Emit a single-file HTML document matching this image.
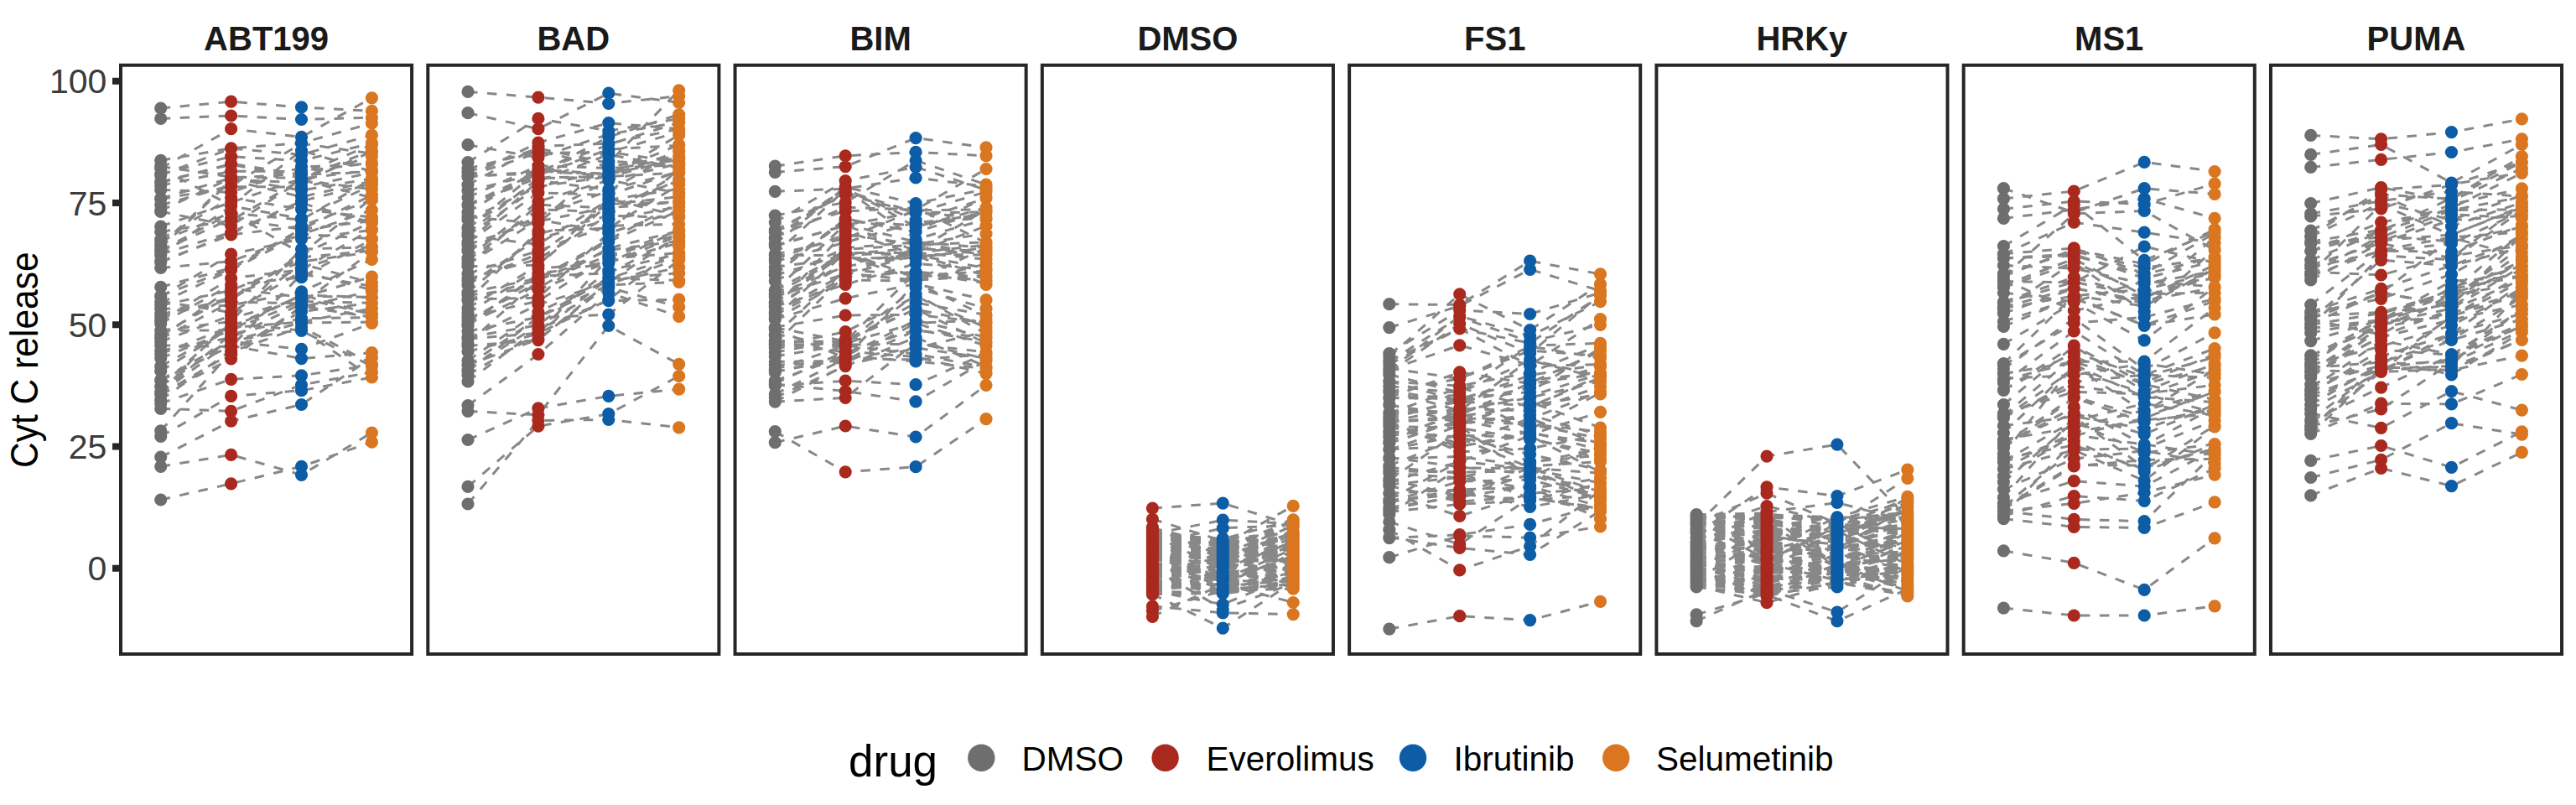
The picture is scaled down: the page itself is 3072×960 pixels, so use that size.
<!DOCTYPE html><html><head><meta charset="utf-8"><style>html,body{margin:0;padding:0;background:#fff;}svg{display:block;}text{font-family:"Liberation Sans",sans-serif;}</style></head><body>
<svg width="3072" height="960" viewBox="0 0 3072 960">
<rect width="3072" height="960" fill="#fff"/>
<g fill="none" stroke="#888888" stroke-width="3" stroke-dasharray="11.5 11.5">
<polyline points="191.7,442.6 275.6,390.7 359.5,383.9 443.4,367.8"/>
<polyline points="191.7,394.1 275.6,383.4 359.5,297.0 443.4,294.9"/>
<polyline points="191.7,129.1 275.6,121.2 359.5,127.9 443.4,132.4"/>
<polyline points="191.7,407.4 275.6,376.3 359.5,314.7 443.4,337.2"/>
<polyline points="191.7,226.3 275.6,229.4 359.5,198.9 443.4,196.1"/>
<polyline points="191.7,461.1 275.6,384.8 359.5,394.4 443.4,436.7"/>
<polyline points="191.7,468.6 275.6,379.8 359.5,355.7 443.4,374.9"/>
<polyline points="191.7,481.1 275.6,452.3 359.5,447.8 443.4,435.3"/>
<polyline points="191.7,287.2 275.6,253.6 359.5,302.4 443.4,236.6"/>
<polyline points="191.7,556.3 275.6,542.4 359.5,566.3 443.4,516.0"/>
<polyline points="191.7,382.7 275.6,331.9 359.5,321.7 443.4,273.2"/>
<polyline points="191.7,216.8 275.6,196.1 359.5,212.4 443.4,186.4"/>
<polyline points="191.7,453.7 275.6,412.3 359.5,427.6 443.4,420.6"/>
<polyline points="191.7,468.6 275.6,407.3 359.5,416.4 443.4,385.5"/>
<polyline points="191.7,411.9 275.6,413.4 359.5,327.0 443.4,341.3"/>
<polyline points="191.7,141.4 275.6,138.0 359.5,142.5 443.4,140.2"/>
<polyline points="191.7,545.1 275.6,502.2 359.5,482.5 443.4,426.4"/>
<polyline points="191.7,285.5 275.6,235.8 359.5,249.6 443.4,259.0"/>
<polyline points="191.7,236.6 275.6,212.3 359.5,207.2 443.4,172.5"/>
<polyline points="191.7,487.3 275.6,490.3 359.5,459.0 443.4,443.8"/>
<polyline points="191.7,252.3 275.6,269.3 359.5,214.9 443.4,225.8"/>
<polyline points="191.7,304.4 275.6,245.7 359.5,260.6 443.4,220.6"/>
<polyline points="191.7,312.8 275.6,278.4 359.5,242.3 443.4,265.5"/>
<polyline points="191.7,319.5 275.6,311.7 359.5,279.6 443.4,250.5"/>
<polyline points="191.7,436.8 275.6,390.7 359.5,352.1 443.4,354.4"/>
<polyline points="191.7,298.7 275.6,254.2 359.5,262.2 443.4,213.3"/>
<polyline points="191.7,342.3 275.6,319.5 359.5,273.2 443.4,263.7"/>
<polyline points="191.7,361.1 275.6,321.9 359.5,279.2 443.4,284.7"/>
<polyline points="191.7,354.0 275.6,303.2 359.5,284.8 443.4,274.4"/>
<polyline points="191.7,385.8 275.6,339.8 359.5,330.7 443.4,285.6"/>
<polyline points="191.7,270.0 275.6,241.4 359.5,213.1 443.4,202.8"/>
<polyline points="191.7,520.5 275.6,472.4 359.5,465.7 443.4,450.0"/>
<polyline points="191.7,467.6 275.6,398.5 359.5,379.7 443.4,378.6"/>
<polyline points="191.7,292.6 275.6,214.4 359.5,217.9 443.4,180.8"/>
<polyline points="191.7,244.6 275.6,221.2 359.5,171.1 443.4,183.2"/>
<polyline points="191.7,470.5 275.6,427.9 359.5,365.2 443.4,378.3"/>
<polyline points="191.7,394.3 275.6,393.7 359.5,351.5 443.4,374.7"/>
<polyline points="191.7,596.0 275.6,576.8 359.5,556.3 443.4,527.2"/>
<polyline points="191.7,303.3 275.6,277.0 359.5,239.9 443.4,218.9"/>
<polyline points="191.7,404.1 275.6,360.1 359.5,361.8 443.4,299.9"/>
<polyline points="191.7,402.5 275.6,343.9 359.5,354.6 443.4,330.0"/>
<polyline points="191.7,427.1 275.6,393.8 359.5,359.3 443.4,361.4"/>
<polyline points="191.7,513.8 275.6,419.7 359.5,389.8 443.4,433.9"/>
<polyline points="191.7,359.3 275.6,372.6 359.5,323.9 443.4,345.9"/>
<polyline points="191.7,364.2 275.6,346.3 359.5,312.1 443.4,300.5"/>
<polyline points="191.7,237.5 275.6,222.6 359.5,223.1 443.4,205.9"/>
<polyline points="191.7,217.8 275.6,195.2 359.5,208.3 443.4,204.6"/>
<polyline points="191.7,374.6 275.6,357.3 359.5,303.4 443.4,264.9"/>
<polyline points="191.7,460.3 275.6,406.4 359.5,393.1 443.4,450.0"/>
<polyline points="191.7,470.4 275.6,421.6 359.5,366.2 443.4,347.0"/>
<polyline points="191.7,368.6 275.6,364.0 359.5,347.9 443.4,309.4"/>
<polyline points="191.7,453.0 275.6,406.3 359.5,384.9 443.4,384.1"/>
<polyline points="191.7,295.8 275.6,215.1 359.5,234.7 443.4,215.9"/>
<polyline points="191.7,208.9 275.6,177.0 359.5,184.4 443.4,161.2"/>
<polyline points="191.7,299.4 275.6,260.8 359.5,273.5 443.4,232.7"/>
<polyline points="191.7,311.6 275.6,280.0 359.5,269.6 443.4,238.4"/>
<polyline points="191.7,207.7 275.6,186.7 359.5,191.7 443.4,170.7"/>
<polyline points="191.7,200.6 275.6,153.7 359.5,163.4 443.4,116.8"/>
<polyline points="191.7,200.9 275.6,245.1 359.5,179.5 443.4,204.6"/>
<polyline points="191.7,352.8 275.6,320.6 359.5,275.8 443.4,260.7"/>
<polyline points="191.7,476.9 275.6,418.0 359.5,371.5 443.4,361.4"/>
<polyline points="191.7,191.3 275.6,176.8 359.5,170.6 443.4,146.9"/>
<polyline points="191.7,378.2 275.6,355.0 359.5,306.8 443.4,299.1"/>
<polyline points="191.7,422.0 275.6,389.4 359.5,352.9 443.4,354.9"/>
<polyline points="191.7,251.1 275.6,212.5 359.5,227.1 443.4,212.9"/>
<polyline points="191.7,221.2 275.6,204.1 359.5,204.5 443.4,194.0"/>
<polyline points="191.7,198.5 275.6,211.1 359.5,212.4 443.4,179.4"/>
<polyline points="191.7,418.1 275.6,402.7 359.5,362.3 443.4,378.6"/>
<polyline points="191.7,276.4 275.6,262.9 359.5,214.4 443.4,235.8"/>
<polyline points="191.7,399.0 275.6,352.1 359.5,320.3 443.4,294.0"/>
<polyline points="558.0,280.8 641.9,222.8 725.8,202.6 809.7,187.8"/>
<polyline points="558.0,388.6 641.9,326.5 725.8,313.7 809.7,274.2"/>
<polyline points="558.0,209.8 641.9,182.2 725.8,181.6 809.7,157.4"/>
<polyline points="558.0,385.4 641.9,329.3 725.8,325.9 809.7,283.3"/>
<polyline points="558.0,430.1 641.9,372.1 725.8,332.0 809.7,305.2"/>
<polyline points="558.0,281.1 641.9,291.5 725.8,238.3 809.7,225.3"/>
<polyline points="558.0,524.5 641.9,486.9 725.8,472.4 809.7,464.1"/>
<polyline points="558.0,404.1 641.9,397.4 725.8,357.4 809.7,293.9"/>
<polyline points="558.0,317.6 641.9,316.3 725.8,237.0 809.7,257.5"/>
<polyline points="558.0,348.5 641.9,279.0 725.8,257.3 809.7,259.3"/>
<polyline points="558.0,403.5 641.9,363.3 725.8,336.5 809.7,281.0"/>
<polyline points="558.0,271.3 641.9,215.5 725.8,226.2 809.7,205.0"/>
<polyline points="558.0,580.4 641.9,508.2 725.8,493.7 809.7,448.5"/>
<polyline points="558.0,210.0 641.9,207.0 725.8,181.4 809.7,193.2"/>
<polyline points="558.0,339.9 641.9,284.4 725.8,262.3 809.7,246.4"/>
<polyline points="558.0,358.6 641.9,275.4 725.8,272.0 809.7,220.2"/>
<polyline points="558.0,258.4 641.9,266.6 725.8,192.1 809.7,197.4"/>
<polyline points="558.0,386.2 641.9,345.5 725.8,312.4 809.7,289.7"/>
<polyline points="558.0,440.9 641.9,387.6 725.8,342.8 809.7,366.1"/>
<polyline points="558.0,395.0 641.9,378.2 725.8,332.4 809.7,325.8"/>
<polyline points="558.0,289.2 641.9,229.7 725.8,232.7 809.7,204.3"/>
<polyline points="558.0,220.6 641.9,174.4 725.8,171.1 809.7,153.8"/>
<polyline points="558.0,412.5 641.9,405.6 725.8,336.5 809.7,319.0"/>
<polyline points="558.0,409.4 641.9,334.2 725.8,298.4 809.7,287.5"/>
<polyline points="558.0,200.9 641.9,180.3 725.8,198.6 809.7,186.5"/>
<polyline points="558.0,314.8 641.9,262.1 725.8,276.6 809.7,201.1"/>
<polyline points="558.0,367.4 641.9,316.4 725.8,243.6 809.7,234.7"/>
<polyline points="558.0,299.3 641.9,257.4 725.8,227.7 809.7,179.9"/>
<polyline points="558.0,210.8 641.9,204.5 725.8,172.4 809.7,146.2"/>
<polyline points="558.0,210.6 641.9,170.1 725.8,146.6 809.7,153.8"/>
<polyline points="558.0,244.0 641.9,204.8 725.8,207.4 809.7,172.6"/>
<polyline points="558.0,235.4 641.9,197.7 725.8,200.5 809.7,196.6"/>
<polyline points="558.0,172.7 641.9,188.0 725.8,160.1 809.7,145.8"/>
<polyline points="558.0,332.7 641.9,308.9 725.8,256.4 809.7,206.2"/>
<polyline points="558.0,272.6 641.9,203.7 725.8,209.6 809.7,180.6"/>
<polyline points="558.0,109.4 641.9,116.1 725.8,123.5 809.7,114.5"/>
<polyline points="558.0,419.2 641.9,398.2 725.8,308.4 809.7,301.6"/>
<polyline points="558.0,297.3 641.9,258.0 725.8,215.3 809.7,195.0"/>
<polyline points="558.0,378.1 641.9,359.0 725.8,306.7 809.7,279.2"/>
<polyline points="558.0,382.1 641.9,336.6 725.8,305.0 809.7,274.9"/>
<polyline points="558.0,244.7 641.9,211.9 725.8,210.5 809.7,161.0"/>
<polyline points="558.0,193.6 641.9,141.4 725.8,156.1 809.7,141.6"/>
<polyline points="558.0,402.1 641.9,387.8 725.8,322.7 809.7,302.8"/>
<polyline points="558.0,351.8 641.9,343.4 725.8,296.0 809.7,275.4"/>
<polyline points="558.0,278.0 641.9,212.5 725.8,211.0 809.7,188.6"/>
<polyline points="558.0,310.2 641.9,249.8 725.8,252.7 809.7,214.1"/>
<polyline points="558.0,357.0 641.9,355.1 725.8,278.0 809.7,251.2"/>
<polyline points="558.0,261.9 641.9,222.5 725.8,210.6 809.7,205.9"/>
<polyline points="558.0,253.1 641.9,202.0 725.8,207.7 809.7,190.0"/>
<polyline points="558.0,227.6 641.9,207.0 725.8,163.3 809.7,136.6"/>
<polyline points="558.0,483.6 641.9,422.5 725.8,349.1 809.7,377.3"/>
<polyline points="558.0,601.0 641.9,501.5 725.8,500.4 809.7,509.8"/>
<polyline points="558.0,349.2 641.9,332.0 725.8,285.9 809.7,241.9"/>
<polyline points="558.0,454.9 641.9,391.9 725.8,358.6 809.7,357.2"/>
<polyline points="558.0,244.5 641.9,208.4 725.8,178.1 809.7,173.4"/>
<polyline points="558.0,442.8 641.9,378.0 725.8,340.0 809.7,336.3"/>
<polyline points="558.0,205.0 641.9,176.9 725.8,194.5 809.7,107.8"/>
<polyline points="558.0,288.4 641.9,216.3 725.8,184.3 809.7,200.2"/>
<polyline points="558.0,326.3 641.9,298.9 725.8,269.3 809.7,267.3"/>
<polyline points="558.0,373.7 641.9,320.0 725.8,313.9 809.7,281.0"/>
<polyline points="558.0,307.8 641.9,240.3 725.8,215.0 809.7,230.1"/>
<polyline points="558.0,447.0 641.9,397.8 725.8,331.6 809.7,334.5"/>
<polyline points="558.0,134.7 641.9,153.7 725.8,111.2 809.7,122.4"/>
<polyline points="558.0,490.3 641.9,494.8 725.8,388.5 809.7,434.3"/>
<polyline points="558.0,317.0 641.9,244.2 725.8,247.9 809.7,240.7"/>
<polyline points="558.0,435.6 641.9,379.0 725.8,375.1 809.7,310.1"/>
<polyline points="558.0,291.7 641.9,263.9 725.8,247.3 809.7,215.4"/>
<polyline points="558.0,357.2 641.9,333.8 725.8,288.1 809.7,251.3"/>
<polyline points="558.0,335.1 641.9,303.2 725.8,243.6 809.7,240.9"/>
<polyline points="558.0,435.1 641.9,404.6 725.8,339.4 809.7,308.2"/>
<polyline points="924.3,351.6 1008.2,317.5 1092.1,306.3 1176.0,298.1"/>
<polyline points="924.3,205.3 1008.2,198.6 1092.1,164.6 1176.0,175.8"/>
<polyline points="924.3,327.6 1008.2,260.9 1092.1,276.5 1176.0,251.5"/>
<polyline points="924.3,431.3 1008.2,430.4 1092.1,385.4 1176.0,412.3"/>
<polyline points="924.3,392.4 1008.2,427.0 1092.1,337.3 1176.0,377.0"/>
<polyline points="924.3,527.7 1008.2,508.0 1092.1,521.0 1176.0,459.3"/>
<polyline points="924.3,411.6 1008.2,409.4 1092.1,342.9 1176.0,367.9"/>
<polyline points="924.3,257.0 1008.2,241.4 1092.1,191.4 1176.0,220.2"/>
<polyline points="924.3,372.7 1008.2,326.0 1092.1,334.1 1176.0,328.8"/>
<polyline points="924.3,378.9 1008.2,300.6 1092.1,330.7 1176.0,322.8"/>
<polyline points="924.3,360.5 1008.2,297.3 1092.1,291.8 1176.0,288.9"/>
<polyline points="924.3,457.3 1008.2,418.9 1092.1,425.5 1176.0,445.6"/>
<polyline points="924.3,406.8 1008.2,420.3 1092.1,393.1 1176.0,407.8"/>
<polyline points="924.3,303.2 1008.2,225.9 1092.1,285.3 1176.0,261.4"/>
<polyline points="924.3,290.7 1008.2,223.1 1092.1,242.5 1176.0,225.5"/>
<polyline points="924.3,412.6 1008.2,395.7 1092.1,353.5 1176.0,390.8"/>
<polyline points="924.3,328.3 1008.2,303.1 1092.1,295.8 1176.0,302.9"/>
<polyline points="924.3,283.3 1008.2,224.0 1092.1,270.7 1176.0,247.7"/>
<polyline points="924.3,390.2 1008.2,376.0 1092.1,375.3 1176.0,384.6"/>
<polyline points="924.3,366.9 1008.2,311.4 1092.1,303.8 1176.0,303.9"/>
<polyline points="924.3,274.7 1008.2,252.0 1092.1,247.8 1176.0,289.6"/>
<polyline points="924.3,367.5 1008.2,275.5 1092.1,304.1 1176.0,319.8"/>
<polyline points="924.3,274.5 1008.2,231.8 1092.1,253.7 1176.0,228.8"/>
<polyline points="924.3,479.1 1008.2,474.3 1092.1,408.4 1176.0,427.9"/>
<polyline points="924.3,443.9 1008.2,424.5 1092.1,381.9 1176.0,402.3"/>
<polyline points="924.3,364.6 1008.2,314.7 1092.1,301.2 1176.0,309.2"/>
<polyline points="924.3,470.0 1008.2,427.7 1092.1,428.9 1176.0,422.8"/>
<polyline points="924.3,375.7 1008.2,330.7 1092.1,324.2 1176.0,331.1"/>
<polyline points="924.3,346.4 1008.2,267.3 1092.1,288.5 1176.0,295.6"/>
<polyline points="924.3,346.2 1008.2,301.7 1092.1,304.3 1176.0,339.4"/>
<polyline points="924.3,409.8 1008.2,328.1 1092.1,303.7 1176.0,328.8"/>
<polyline points="924.3,420.2 1008.2,404.9 1092.1,369.1 1176.0,385.8"/>
<polyline points="924.3,277.1 1008.2,226.2 1092.1,262.7 1176.0,236.5"/>
<polyline points="924.3,284.2 1008.2,227.7 1092.1,253.4 1176.0,253.0"/>
<polyline points="924.3,303.4 1008.2,284.3 1092.1,250.8 1176.0,249.9"/>
<polyline points="924.3,362.1 1008.2,301.6 1092.1,301.6 1176.0,292.0"/>
<polyline points="924.3,474.0 1008.2,436.6 1092.1,402.3 1176.0,437.0"/>
<polyline points="924.3,380.8 1008.2,333.9 1092.1,335.1 1176.0,314.7"/>
<polyline points="924.3,354.0 1008.2,326.5 1092.1,296.4 1176.0,299.4"/>
<polyline points="924.3,435.2 1008.2,432.4 1092.1,393.9 1176.0,402.7"/>
<polyline points="924.3,311.8 1008.2,289.1 1092.1,265.0 1176.0,260.1"/>
<polyline points="924.3,323.0 1008.2,261.5 1092.1,276.3 1176.0,235.1"/>
<polyline points="924.3,283.0 1008.2,247.1 1092.1,250.2 1176.0,201.5"/>
<polyline points="924.3,424.9 1008.2,411.2 1092.1,410.2 1176.0,420.0"/>
<polyline points="924.3,365.6 1008.2,339.4 1092.1,314.3 1176.0,321.1"/>
<polyline points="924.3,443.4 1008.2,427.6 1092.1,415.0 1176.0,395.5"/>
<polyline points="924.3,514.7 1008.2,562.8 1092.1,556.7 1176.0,499.7"/>
<polyline points="924.3,398.4 1008.2,413.8 1092.1,350.9 1176.0,398.2"/>
<polyline points="924.3,454.0 1008.2,424.8 1092.1,431.0 1176.0,439.6"/>
<polyline points="924.3,479.1 1008.2,435.7 1092.1,414.9 1176.0,427.0"/>
<polyline points="924.3,460.0 1008.2,454.2 1092.1,458.7 1176.0,421.4"/>
<polyline points="924.3,265.1 1008.2,215.7 1092.1,199.2 1176.0,226.5"/>
<polyline points="924.3,198.1 1008.2,185.8 1092.1,181.4 1176.0,185.8"/>
<polyline points="924.3,458.1 1008.2,466.5 1092.1,478.8 1176.0,429.9"/>
<polyline points="924.3,350.1 1008.2,304.4 1092.1,300.6 1176.0,269.6"/>
<polyline points="924.3,335.1 1008.2,295.5 1092.1,289.0 1176.0,303.6"/>
<polyline points="924.3,308.8 1008.2,279.9 1092.1,291.1 1176.0,278.7"/>
<polyline points="924.3,292.7 1008.2,269.0 1092.1,298.8 1176.0,250.2"/>
<polyline points="924.3,228.3 1008.2,225.1 1092.1,212.0 1176.0,222.4"/>
<polyline points="924.3,380.7 1008.2,355.8 1092.1,338.5 1176.0,357.7"/>
<polyline points="924.3,323.0 1008.2,263.8 1092.1,268.9 1176.0,253.4"/>
<polyline points="924.3,399.9 1008.2,321.7 1092.1,327.8 1176.0,334.4"/>
<polyline points="924.3,407.2 1008.2,407.3 1092.1,361.1 1176.0,375.4"/>
<polyline points="924.3,293.6 1008.2,268.5 1092.1,253.2 1176.0,260.5"/>
<polyline points="924.3,406.1 1008.2,409.3 1092.1,385.3 1176.0,381.8"/>
<polyline points="924.3,304.4 1008.2,304.4 1092.1,333.7 1176.0,295.7"/>
<polyline points="924.3,318.4 1008.2,307.7 1092.1,308.0 1176.0,294.8"/>
<polyline points="924.3,440.7 1008.2,412.0 1092.1,422.1 1176.0,438.2"/>
<polyline points="924.3,415.0 1008.2,407.0 1092.1,368.5 1176.0,409.4"/>
<polyline points="924.3,390.7 1008.2,406.9 1092.1,324.9 1176.0,337.7"/>
<polyline points="1374.4,701.1 1458.3,696.6 1542.2,670.0"/>
<polyline points="1374.4,704.8 1458.3,720.8 1542.2,685.3"/>
<polyline points="1374.4,663.5 1458.3,662.1 1542.2,693.4"/>
<polyline points="1374.4,631.6 1458.3,651.2 1542.2,627.9"/>
<polyline points="1374.4,675.4 1458.3,669.8 1542.2,664.4"/>
<polyline points="1374.4,648.2 1458.3,629.8 1542.2,626.4"/>
<polyline points="1374.4,723.0 1458.3,730.8 1542.2,732.6"/>
<polyline points="1374.4,693.3 1458.3,707.7 1542.2,699.1"/>
<polyline points="1374.4,700.7 1458.3,670.1 1542.2,680.7"/>
<polyline points="1374.4,641.3 1458.3,651.5 1542.2,652.8"/>
<polyline points="1374.4,690.5 1458.3,674.2 1542.2,676.6"/>
<polyline points="1374.4,644.1 1458.3,642.2 1542.2,672.6"/>
<polyline points="1374.4,642.4 1458.3,642.2 1542.2,635.6"/>
<polyline points="1374.4,706.5 1458.3,687.3 1542.2,683.7"/>
<polyline points="1374.4,650.4 1458.3,645.2 1542.2,642.9"/>
<polyline points="1374.4,677.0 1458.3,653.6 1542.2,661.6"/>
<polyline points="1374.4,695.6 1458.3,704.6 1542.2,684.1"/>
<polyline points="1374.4,674.8 1458.3,666.4 1542.2,646.4"/>
<polyline points="1374.4,686.0 1458.3,670.3 1542.2,701.8"/>
<polyline points="1374.4,633.8 1458.3,653.0 1542.2,621.0"/>
<polyline points="1374.4,648.7 1458.3,677.8 1542.2,651.1"/>
<polyline points="1374.4,664.0 1458.3,656.5 1542.2,681.5"/>
<polyline points="1374.4,674.8 1458.3,693.2 1542.2,673.8"/>
<polyline points="1374.4,685.3 1458.3,661.6 1542.2,648.7"/>
<polyline points="1374.4,668.5 1458.3,651.8 1542.2,656.2"/>
<polyline points="1374.4,703.3 1458.3,697.1 1542.2,697.1"/>
<polyline points="1374.4,648.3 1458.3,644.5 1542.2,668.2"/>
<polyline points="1374.4,638.7 1458.3,648.1 1542.2,639.3"/>
<polyline points="1374.4,671.5 1458.3,686.5 1542.2,666.3"/>
<polyline points="1374.4,653.3 1458.3,691.1 1542.2,654.8"/>
<polyline points="1374.4,629.8 1458.3,649.9 1542.2,603.4"/>
<polyline points="1374.4,643.7 1458.3,674.8 1542.2,665.5"/>
<polyline points="1374.4,641.3 1458.3,649.5 1542.2,654.9"/>
<polyline points="1374.4,673.7 1458.3,658.5 1542.2,657.2"/>
<polyline points="1374.4,647.8 1458.3,655.0 1542.2,649.7"/>
<polyline points="1374.4,694.9 1458.3,688.0 1542.2,669.3"/>
<polyline points="1374.4,682.5 1458.3,670.7 1542.2,684.2"/>
<polyline points="1374.4,636.8 1458.3,620.2 1542.2,624.5"/>
<polyline points="1374.4,650.1 1458.3,657.4 1542.2,664.4"/>
<polyline points="1374.4,680.6 1458.3,692.3 1542.2,701.0"/>
<polyline points="1374.4,657.5 1458.3,699.1 1542.2,692.0"/>
<polyline points="1374.4,670.6 1458.3,703.8 1542.2,682.2"/>
<polyline points="1374.4,677.8 1458.3,726.4 1542.2,695.7"/>
<polyline points="1374.4,659.7 1458.3,692.7 1542.2,664.2"/>
<polyline points="1374.4,650.1 1458.3,654.6 1542.2,642.7"/>
<polyline points="1374.4,642.7 1458.3,656.1 1542.2,637.4"/>
<polyline points="1374.4,653.1 1458.3,658.9 1542.2,660.0"/>
<polyline points="1374.4,656.9 1458.3,652.3 1542.2,654.5"/>
<polyline points="1374.4,694.7 1458.3,674.2 1542.2,692.6"/>
<polyline points="1374.4,638.0 1458.3,678.5 1542.2,646.1"/>
<polyline points="1374.4,660.0 1458.3,702.5 1542.2,697.0"/>
<polyline points="1374.4,735.3 1458.3,696.5 1542.2,718.5"/>
<polyline points="1374.4,698.6 1458.3,702.7 1542.2,696.2"/>
<polyline points="1374.4,656.1 1458.3,692.1 1542.2,694.4"/>
<polyline points="1374.4,646.5 1458.3,655.7 1542.2,658.3"/>
<polyline points="1374.4,647.4 1458.3,676.9 1542.2,646.1"/>
<polyline points="1374.4,636.8 1458.3,643.0 1542.2,657.1"/>
<polyline points="1374.4,673.1 1458.3,681.4 1542.2,647.3"/>
<polyline points="1374.4,606.1 1458.3,600.1 1542.2,626.4"/>
<polyline points="1374.4,632.3 1458.3,661.7 1542.2,655.7"/>
<polyline points="1374.4,637.3 1458.3,651.6 1542.2,654.9"/>
<polyline points="1374.4,661.1 1458.3,676.0 1542.2,641.0"/>
<polyline points="1374.4,692.2 1458.3,689.8 1542.2,699.3"/>
<polyline points="1374.4,628.8 1458.3,663.6 1542.2,635.2"/>
<polyline points="1374.4,654.6 1458.3,696.2 1542.2,660.4"/>
<polyline points="1374.4,698.8 1458.3,683.2 1542.2,686.1"/>
<polyline points="1374.4,648.4 1458.3,668.6 1542.2,660.6"/>
<polyline points="1374.4,697.2 1458.3,697.1 1542.2,682.6"/>
<polyline points="1374.4,678.4 1458.3,683.2 1542.2,694.1"/>
<polyline points="1374.4,682.0 1458.3,682.9 1542.2,675.1"/>
<polyline points="1374.4,708.8 1458.3,707.4 1542.2,696.0"/>
<polyline points="1374.4,694.1 1458.3,697.7 1542.2,690.1"/>
<polyline points="1374.4,651.5 1458.3,666.1 1542.2,654.0"/>
<polyline points="1374.4,700.1 1458.3,697.2 1542.2,695.8"/>
<polyline points="1374.4,705.6 1458.3,706.4 1542.2,691.9"/>
<polyline points="1374.4,671.3 1458.3,686.0 1542.2,679.6"/>
<polyline points="1374.4,691.8 1458.3,703.1 1542.2,679.4"/>
<polyline points="1374.4,659.7 1458.3,684.9 1542.2,649.7"/>
<polyline points="1374.4,634.0 1458.3,661.2 1542.2,627.3"/>
<polyline points="1374.4,636.8 1458.3,642.8 1542.2,619.9"/>
<polyline points="1374.4,619.1 1458.3,645.1 1542.2,636.0"/>
<polyline points="1374.4,689.6 1458.3,657.8 1542.2,672.1"/>
<polyline points="1374.4,657.1 1458.3,657.9 1542.2,622.1"/>
<polyline points="1374.4,708.6 1458.3,749.2 1542.2,694.0"/>
<polyline points="1374.4,633.2 1458.3,658.2 1542.2,653.0"/>
<polyline points="1374.4,675.4 1458.3,682.1 1542.2,694.5"/>
<polyline points="1374.4,654.0 1458.3,664.5 1542.2,687.5"/>
<polyline points="1374.4,664.8 1458.3,665.8 1542.2,655.7"/>
<polyline points="1374.4,636.2 1458.3,665.7 1542.2,638.6"/>
<polyline points="1374.4,638.5 1458.3,658.0 1542.2,644.7"/>
<polyline points="1374.4,705.6 1458.3,683.2 1542.2,690.9"/>
<polyline points="1374.4,656.7 1458.3,668.5 1542.2,669.3"/>
<polyline points="1374.4,686.3 1458.3,687.9 1542.2,687.3"/>
<polyline points="1374.4,653.5 1458.3,666.4 1542.2,667.9"/>
<polyline points="1374.4,661.7 1458.3,646.1 1542.2,634.2"/>
<polyline points="1374.4,728.6 1458.3,704.4 1542.2,702.1"/>
<polyline points="1374.4,667.6 1458.3,663.3 1542.2,663.4"/>
<polyline points="1374.4,642.4 1458.3,647.3 1542.2,644.9"/>
<polyline points="1374.4,652.1 1458.3,683.3 1542.2,676.7"/>
<polyline points="1374.4,668.6 1458.3,669.9 1542.2,667.2"/>
<polyline points="1656.8,482.0 1740.7,505.0 1824.6,479.3 1908.5,510.0"/>
<polyline points="1656.8,467.5 1740.7,451.4 1824.6,418.1 1908.5,424.5"/>
<polyline points="1656.8,441.7 1740.7,376.9 1824.6,400.7 1908.5,359.6"/>
<polyline points="1656.8,465.8 1740.7,489.8 1824.6,428.9 1908.5,448.7"/>
<polyline points="1656.8,640.9 1740.7,653.5 1824.6,661.4 1908.5,609.3"/>
<polyline points="1656.8,555.0 1740.7,522.0 1824.6,558.0 1908.5,564.3"/>
<polyline points="1656.8,460.8 1740.7,468.3 1824.6,429.7 1908.5,451.0"/>
<polyline points="1656.8,502.3 1740.7,538.7 1824.6,534.9 1908.5,518.7"/>
<polyline points="1656.8,390.6 1740.7,364.9 1824.6,321.3 1908.5,346.9"/>
<polyline points="1656.8,572.8 1740.7,514.2 1824.6,550.7 1908.5,543.1"/>
<polyline points="1656.8,483.3 1740.7,495.2 1824.6,456.7 1908.5,418.8"/>
<polyline points="1656.8,496.4 1740.7,478.9 1824.6,483.7 1908.5,470.0"/>
<polyline points="1656.8,664.7 1740.7,639.0 1824.6,641.2 1908.5,628.0"/>
<polyline points="1656.8,434.3 1740.7,392.0 1824.6,409.2 1908.5,352.5"/>
<polyline points="1656.8,431.2 1740.7,378.1 1824.6,407.5 1908.5,387.3"/>
<polyline points="1656.8,500.0 1740.7,476.0 1824.6,467.3 1908.5,415.0"/>
<polyline points="1656.8,598.3 1740.7,574.2 1824.6,572.0 1908.5,594.0"/>
<polyline points="1656.8,455.2 1740.7,460.1 1824.6,444.3 1908.5,411.4"/>
<polyline points="1656.8,610.5 1740.7,601.2 1824.6,596.8 1908.5,589.8"/>
<polyline points="1656.8,564.1 1740.7,569.8 1824.6,582.6 1908.5,570.6"/>
<polyline points="1656.8,514.7 1740.7,521.2 1824.6,541.8 1908.5,560.6"/>
<polyline points="1656.8,465.9 1740.7,479.0 1824.6,462.5 1908.5,436.9"/>
<polyline points="1656.8,521.2 1740.7,494.8 1824.6,506.1 1908.5,522.8"/>
<polyline points="1656.8,439.1 1740.7,451.6 1824.6,413.1 1908.5,427.0"/>
<polyline points="1656.8,578.0 1740.7,569.3 1824.6,552.1 1908.5,535.4"/>
<polyline points="1656.8,505.4 1740.7,529.1 1824.6,499.1 1908.5,529.6"/>
<polyline points="1656.8,545.4 1740.7,557.0 1824.6,565.4 1908.5,585.2"/>
<polyline points="1656.8,492.9 1740.7,462.2 1824.6,485.2 1908.5,450.3"/>
<polyline points="1656.8,641.6 1740.7,637.7 1824.6,625.4 1908.5,601.9"/>
<polyline points="1656.8,557.5 1740.7,564.3 1824.6,593.9 1908.5,605.4"/>
<polyline points="1656.8,454.5 1740.7,477.9 1824.6,447.4 1908.5,434.8"/>
<polyline points="1656.8,503.1 1740.7,499.2 1824.6,499.6 1908.5,467.0"/>
<polyline points="1656.8,597.2 1740.7,589.4 1824.6,596.5 1908.5,576.8"/>
<polyline points="1656.8,503.3 1740.7,496.2 1824.6,485.4 1908.5,448.0"/>
<polyline points="1656.8,588.2 1740.7,615.4 1824.6,588.4 1908.5,582.2"/>
<polyline points="1656.8,508.4 1740.7,510.4 1824.6,523.8 1908.5,540.6"/>
<polyline points="1656.8,474.8 1740.7,471.3 1824.6,512.1 1908.5,468.6"/>
<polyline points="1656.8,421.6 1740.7,369.9 1824.6,374.5 1908.5,349.1"/>
<polyline points="1656.8,425.5 1740.7,350.8 1824.6,393.6 1908.5,338.9"/>
<polyline points="1656.8,444.2 1740.7,386.2 1824.6,421.3 1908.5,351.2"/>
<polyline points="1656.8,440.9 1740.7,411.8 1824.6,435.6 1908.5,380.5"/>
<polyline points="1656.8,446.7 1740.7,468.2 1824.6,412.2 1908.5,409.3"/>
<polyline points="1656.8,574.5 1740.7,550.6 1824.6,519.6 1908.5,563.1"/>
<polyline points="1656.8,561.5 1740.7,563.1 1824.6,561.8 1908.5,592.9"/>
<polyline points="1656.8,536.1 1740.7,519.1 1824.6,521.7 1908.5,547.1"/>
<polyline points="1656.8,547.1 1740.7,544.5 1824.6,556.1 1908.5,550.6"/>
<polyline points="1656.8,492.1 1740.7,490.3 1824.6,472.2 1908.5,445.9"/>
<polyline points="1656.8,520.4 1740.7,502.9 1824.6,505.8 1908.5,514.9"/>
<polyline points="1656.8,535.8 1740.7,532.3 1824.6,518.5 1908.5,491.3"/>
<polyline points="1656.8,473.9 1740.7,443.9 1824.6,457.5 1908.5,445.6"/>
<polyline points="1656.8,362.7 1740.7,363.5 1824.6,311.2 1908.5,326.9"/>
<polyline points="1656.8,508.6 1740.7,532.6 1824.6,514.9 1908.5,536.5"/>
<polyline points="1656.8,750.1 1740.7,734.7 1824.6,739.6 1908.5,717.3"/>
<polyline points="1656.8,622.4 1740.7,649.1 1824.6,593.7 1908.5,606.5"/>
<polyline points="1656.8,599.0 1740.7,583.8 1824.6,604.5 1908.5,589.7"/>
<polyline points="1656.8,579.6 1740.7,598.1 1824.6,592.2 1908.5,610.1"/>
<polyline points="1656.8,595.9 1740.7,549.9 1824.6,559.7 1908.5,576.0"/>
<polyline points="1656.8,605.1 1740.7,592.6 1824.6,579.6 1908.5,604.3"/>
<polyline points="1656.8,430.5 1740.7,392.0 1824.6,436.3 1908.5,434.6"/>
<polyline points="1656.8,502.2 1740.7,487.1 1824.6,490.0 1908.5,460.8"/>
<polyline points="1656.8,526.8 1740.7,489.7 1824.6,474.2 1908.5,454.8"/>
<polyline points="1656.8,631.7 1740.7,679.9 1824.6,651.3 1908.5,584.4"/>
<polyline points="1656.8,474.5 1740.7,475.6 1824.6,453.3 1908.5,444.3"/>
<polyline points="1656.8,588.5 1740.7,583.8 1824.6,581.2 1908.5,618.7"/>
<polyline points="1656.8,571.2 1740.7,592.0 1824.6,565.4 1908.5,594.7"/>
<polyline points="1656.8,528.6 1740.7,501.4 1824.6,517.0 1908.5,528.2"/>
<polyline points="1656.8,613.5 1740.7,557.7 1824.6,559.1 1908.5,597.6"/>
<polyline points="1656.8,536.3 1740.7,507.8 1824.6,569.4 1908.5,532.1"/>
<polyline points="1656.8,516.9 1740.7,505.5 1824.6,494.8 1908.5,519.0"/>
<polyline points="1656.8,607.8 1740.7,590.5 1824.6,557.9 1908.5,586.9"/>
<polyline points="2023.1,698.8 2107.0,718.7 2190.9,695.0 2274.8,710.0"/>
<polyline points="2023.1,674.9 2107.0,676.2 2190.9,691.8 2274.8,689.5"/>
<polyline points="2023.1,676.8 2107.0,699.2 2190.9,679.4 2274.8,676.8"/>
<polyline points="2023.1,692.1 2107.0,705.5 2190.9,691.5 2274.8,680.8"/>
<polyline points="2023.1,676.2 2107.0,692.3 2190.9,681.7 2274.8,677.0"/>
<polyline points="2023.1,664.7 2107.0,660.2 2190.9,682.9 2274.8,634.3"/>
<polyline points="2023.1,621.7 2107.0,623.5 2190.9,641.9 2274.8,610.9"/>
<polyline points="2023.1,692.1 2107.0,683.0 2190.9,679.7 2274.8,677.7"/>
<polyline points="2023.1,646.3 2107.0,674.5 2190.9,682.5 2274.8,683.5"/>
<polyline points="2023.1,618.2 2107.0,613.8 2190.9,616.9 2274.8,592.3"/>
<polyline points="2023.1,622.6 2107.0,630.6 2190.9,643.1 2274.8,593.6"/>
<polyline points="2023.1,624.5 2107.0,588.2 2190.9,624.5 2274.8,570.3"/>
<polyline points="2023.1,630.8 2107.0,652.6 2190.9,651.2 2274.8,644.7"/>
<polyline points="2023.1,641.6 2107.0,627.7 2190.9,655.0 2274.8,635.9"/>
<polyline points="2023.1,626.8 2107.0,637.5 2190.9,628.4 2274.8,637.7"/>
<polyline points="2023.1,664.1 2107.0,663.9 2190.9,684.0 2274.8,675.5"/>
<polyline points="2023.1,617.8 2107.0,638.4 2190.9,652.6 2274.8,623.2"/>
<polyline points="2023.1,664.2 2107.0,664.0 2190.9,650.7 2274.8,630.3"/>
<polyline points="2023.1,641.5 2107.0,635.8 2190.9,676.4 2274.8,644.8"/>
<polyline points="2023.1,634.2 2107.0,617.7 2190.9,619.6 2274.8,610.9"/>
<polyline points="2023.1,685.3 2107.0,694.4 2190.9,660.5 2274.8,679.5"/>
<polyline points="2023.1,671.7 2107.0,690.4 2190.9,667.2 2274.8,694.3"/>
<polyline points="2023.1,695.2 2107.0,686.6 2190.9,689.2 2274.8,663.9"/>
<polyline points="2023.1,698.3 2107.0,690.5 2190.9,676.4 2274.8,643.2"/>
<polyline points="2023.1,668.8 2107.0,682.7 2190.9,685.2 2274.8,648.4"/>
<polyline points="2023.1,691.8 2107.0,639.4 2190.9,649.6 2274.8,681.4"/>
<polyline points="2023.1,634.3 2107.0,619.4 2190.9,632.8 2274.8,614.0"/>
<polyline points="2023.1,632.5 2107.0,640.1 2190.9,649.8 2274.8,629.1"/>
<polyline points="2023.1,700.0 2107.0,709.4 2190.9,740.7 2274.8,702.5"/>
<polyline points="2023.1,653.0 2107.0,653.4 2190.9,659.3 2274.8,645.1"/>
<polyline points="2023.1,625.8 2107.0,544.1 2190.9,530.1 2274.8,617.8"/>
<polyline points="2023.1,694.0 2107.0,689.9 2190.9,692.0 2274.8,686.2"/>
<polyline points="2023.1,634.3 2107.0,621.3 2190.9,630.1 2274.8,611.8"/>
<polyline points="2023.1,732.9 2107.0,707.5 2190.9,700.0 2274.8,678.8"/>
<polyline points="2023.1,675.4 2107.0,642.0 2190.9,642.4 2274.8,655.6"/>
<polyline points="2023.1,679.0 2107.0,710.9 2190.9,694.0 2274.8,707.0"/>
<polyline points="2023.1,648.1 2107.0,622.6 2190.9,675.5 2274.8,632.2"/>
<polyline points="2023.1,694.0 2107.0,678.5 2190.9,668.9 2274.8,699.4"/>
<polyline points="2023.1,693.0 2107.0,710.4 2190.9,680.4 2274.8,690.7"/>
<polyline points="2023.1,668.6 2107.0,653.2 2190.9,683.4 2274.8,650.6"/>
<polyline points="2023.1,614.7 2107.0,620.4 2190.9,649.0 2274.8,618.7"/>
<polyline points="2023.1,681.7 2107.0,679.1 2190.9,633.2 2274.8,673.2"/>
<polyline points="2023.1,740.7 2107.0,702.9 2190.9,730.0 2274.8,676.5"/>
<polyline points="2023.1,682.9 2107.0,707.4 2190.9,672.6 2274.8,705.2"/>
<polyline points="2023.1,636.3 2107.0,580.8 2190.9,591.5 2274.8,560.2"/>
<polyline points="2023.1,649.9 2107.0,630.7 2190.9,633.3 2274.8,627.9"/>
<polyline points="2023.1,632.1 2107.0,655.8 2190.9,616.9 2274.8,616.9"/>
<polyline points="2023.1,684.7 2107.0,674.4 2190.9,658.1 2274.8,642.6"/>
<polyline points="2023.1,653.6 2107.0,648.0 2190.9,669.0 2274.8,636.7"/>
<polyline points="2023.1,630.7 2107.0,603.5 2190.9,624.3 2274.8,634.3"/>
<polyline points="2023.1,619.4 2107.0,615.4 2190.9,618.8 2274.8,638.8"/>
<polyline points="2023.1,651.6 2107.0,646.0 2190.9,631.6 2274.8,619.9"/>
<polyline points="2023.1,689.6 2107.0,664.0 2190.9,681.1 2274.8,680.4"/>
<polyline points="2023.1,654.3 2107.0,666.7 2190.9,663.2 2274.8,657.5"/>
<polyline points="2023.1,659.7 2107.0,672.1 2190.9,684.6 2274.8,671.8"/>
<polyline points="2023.1,616.9 2107.0,628.1 2190.9,616.9 2274.8,634.1"/>
<polyline points="2023.1,622.5 2107.0,645.1 2190.9,632.4 2274.8,599.1"/>
<polyline points="2023.1,617.3 2107.0,618.8 2190.9,638.8 2274.8,653.5"/>
<polyline points="2023.1,631.7 2107.0,635.3 2190.9,675.4 2274.8,665.3"/>
<polyline points="2023.1,669.7 2107.0,682.6 2190.9,652.0 2274.8,648.9"/>
<polyline points="2023.1,654.2 2107.0,645.4 2190.9,662.6 2274.8,663.8"/>
<polyline points="2023.1,665.3 2107.0,659.4 2190.9,640.0 2274.8,626.4"/>
<polyline points="2023.1,633.3 2107.0,672.1 2190.9,692.2 2274.8,679.6"/>
<polyline points="2023.1,673.4 2107.0,678.8 2190.9,676.6 2274.8,664.0"/>
<polyline points="2023.1,646.6 2107.0,658.1 2190.9,656.5 2274.8,637.4"/>
<polyline points="2023.1,646.8 2107.0,632.5 2190.9,627.7 2274.8,634.1"/>
<polyline points="2023.1,668.7 2107.0,683.9 2190.9,665.0 2274.8,640.3"/>
<polyline points="2023.1,625.1 2107.0,619.6 2190.9,647.8 2274.8,600.4"/>
<polyline points="2023.1,619.7 2107.0,656.6 2190.9,654.5 2274.8,604.4"/>
<polyline points="2023.1,662.2 2107.0,641.6 2190.9,626.1 2274.8,663.7"/>
<polyline points="2023.1,683.7 2107.0,708.3 2190.9,686.4 2274.8,710.9"/>
<polyline points="2023.1,697.9 2107.0,689.1 2190.9,689.6 2274.8,674.8"/>
<polyline points="2023.1,616.9 2107.0,615.0 2190.9,620.1 2274.8,598.6"/>
<polyline points="2023.1,690.1 2107.0,700.2 2190.9,689.8 2274.8,679.6"/>
<polyline points="2023.1,651.3 2107.0,642.5 2190.9,668.3 2274.8,645.8"/>
<polyline points="2023.1,671.6 2107.0,664.6 2190.9,680.2 2274.8,677.9"/>
<polyline points="2023.1,681.1 2107.0,677.4 2190.9,677.4 2274.8,683.5"/>
<polyline points="2023.1,655.4 2107.0,665.2 2190.9,655.4 2274.8,635.2"/>
<polyline points="2023.1,667.5 2107.0,667.9 2190.9,670.2 2274.8,659.1"/>
<polyline points="2023.1,613.6 2107.0,612.0 2190.9,628.6 2274.8,594.7"/>
<polyline points="2023.1,690.4 2107.0,681.0 2190.9,677.8 2274.8,701.6"/>
<polyline points="2023.1,615.1 2107.0,616.9 2190.9,619.3 2274.8,612.9"/>
<polyline points="2023.1,615.4 2107.0,619.9 2190.9,636.4 2274.8,625.0"/>
<polyline points="2023.1,681.5 2107.0,702.3 2190.9,682.6 2274.8,702.1"/>
<polyline points="2023.1,614.4 2107.0,656.2 2190.9,636.1 2274.8,609.7"/>
<polyline points="2023.1,674.7 2107.0,667.6 2190.9,624.3 2274.8,666.9"/>
<polyline points="2023.1,665.3 2107.0,658.7 2190.9,662.3 2274.8,675.5"/>
<polyline points="2023.1,635.3 2107.0,613.8 2190.9,674.3 2274.8,660.9"/>
<polyline points="2023.1,677.6 2107.0,681.7 2190.9,683.7 2274.8,658.9"/>
<polyline points="2023.1,686.3 2107.0,704.6 2190.9,679.3 2274.8,699.8"/>
<polyline points="2023.1,631.3 2107.0,647.6 2190.9,660.3 2274.8,632.6"/>
<polyline points="2023.1,634.6 2107.0,668.7 2190.9,628.1 2274.8,630.7"/>
<polyline points="2023.1,647.5 2107.0,610.5 2190.9,599.4 2274.8,621.4"/>
<polyline points="2023.1,697.6 2107.0,704.0 2190.9,696.9 2274.8,678.2"/>
<polyline points="2023.1,668.3 2107.0,695.6 2190.9,675.1 2274.8,679.6"/>
<polyline points="2023.1,675.2 2107.0,668.6 2190.9,676.1 2274.8,697.7"/>
<polyline points="2023.1,619.0 2107.0,668.5 2190.9,628.2 2274.8,610.6"/>
<polyline points="2023.1,657.5 2107.0,635.5 2190.9,623.4 2274.8,618.4"/>
<polyline points="2023.1,658.0 2107.0,669.1 2190.9,665.8 2274.8,663.7"/>
<polyline points="2023.1,623.4 2107.0,636.4 2190.9,640.3 2274.8,624.9"/>
<polyline points="2389.4,451.4 2473.3,447.4 2557.2,433.4 2641.1,446.6"/>
<polyline points="2389.4,615.1 2473.3,591.5 2557.2,597.4 2641.1,558.6"/>
<polyline points="2389.4,600.0 2473.3,573.6 2557.2,580.0 2641.1,535.9"/>
<polyline points="2389.4,550.3 2473.3,501.8 2557.2,481.3 2641.1,495.4"/>
<polyline points="2389.4,567.8 2473.3,519.0 2557.2,530.0 2641.1,542.7"/>
<polyline points="2389.4,551.3 2473.3,519.8 2557.2,498.6 2641.1,467.2"/>
<polyline points="2389.4,496.1 2473.3,460.4 2557.2,471.5 2641.1,442.0"/>
<polyline points="2389.4,340.1 2473.3,308.8 2557.2,352.8 2641.1,283.6"/>
<polyline points="2389.4,559.1 2473.3,515.3 2557.2,501.0 2641.1,493.1"/>
<polyline points="2389.4,302.7 2473.3,295.9 2557.2,326.5 2641.1,278.1"/>
<polyline points="2389.4,725.1 2473.3,734.0 2557.2,734.0 2641.1,722.8"/>
<polyline points="2389.4,329.4 2473.3,297.4 2557.2,314.8 2641.1,273.5"/>
<polyline points="2389.4,368.8 2473.3,312.6 2557.2,350.7 2641.1,349.0"/>
<polyline points="2389.4,410.3 2473.3,360.5 2557.2,405.8 2641.1,342.2"/>
<polyline points="2389.4,559.2 2473.3,536.7 2557.2,573.3 2641.1,509.0"/>
<polyline points="2389.4,445.7 2473.3,431.4 2557.2,431.2 2641.1,367.1"/>
<polyline points="2389.4,656.8 2473.3,671.3 2557.2,703.3 2641.1,641.8"/>
<polyline points="2389.4,433.5 2473.3,352.3 2557.2,365.2 2641.1,319.9"/>
<polyline points="2389.4,609.4 2473.3,600.4 2557.2,587.4 2641.1,566.1"/>
<polyline points="2389.4,529.3 2473.3,473.2 2557.2,497.1 2641.1,467.5"/>
<polyline points="2389.4,383.4 2473.3,355.7 2557.2,387.9 2641.1,359.1"/>
<polyline points="2389.4,326.6 2473.3,299.6 2557.2,319.4 2641.1,307.8"/>
<polyline points="2389.4,482.6 2473.3,412.7 2557.2,466.7 2641.1,433.9"/>
<polyline points="2389.4,541.6 2473.3,434.8 2557.2,473.6 2641.1,479.6"/>
<polyline points="2389.4,495.6 2473.3,425.4 2557.2,458.5 2641.1,476.6"/>
<polyline points="2389.4,224.7 2473.3,253.4 2557.2,224.7 2641.1,231.4"/>
<polyline points="2389.4,260.4 2473.3,250.0 2557.2,236.9 2641.1,260.4"/>
<polyline points="2389.4,360.0 2473.3,330.6 2557.2,355.5 2641.1,316.0"/>
<polyline points="2389.4,373.7 2473.3,343.9 2557.2,358.5 2641.1,343.0"/>
<polyline points="2389.4,367.6 2473.3,352.8 2557.2,345.0 2641.1,325.3"/>
<polyline points="2389.4,308.1 2473.3,305.1 2557.2,327.0 2641.1,306.7"/>
<polyline points="2389.4,342.9 2473.3,313.4 2557.2,371.7 2641.1,297.1"/>
<polyline points="2389.4,440.1 2473.3,379.7 2557.2,440.6 2641.1,396.9"/>
<polyline points="2389.4,498.4 2473.3,440.3 2557.2,469.3 2641.1,459.2"/>
<polyline points="2389.4,604.9 2473.3,554.6 2557.2,555.0 2641.1,535.5"/>
<polyline points="2389.4,456.6 2473.3,395.0 2557.2,447.3 2641.1,415.6"/>
<polyline points="2389.4,497.9 2473.3,455.3 2557.2,447.1 2641.1,450.4"/>
<polyline points="2389.4,465.4 2473.3,412.2 2557.2,457.8 2641.1,436.3"/>
<polyline points="2389.4,524.3 2473.3,509.6 2557.2,489.3 2641.1,466.6"/>
<polyline points="2389.4,534.3 2473.3,474.5 2557.2,503.3 2641.1,488.4"/>
<polyline points="2389.4,618.6 2473.3,628.4 2557.2,629.5 2641.1,598.9"/>
<polyline points="2389.4,607.1 2473.3,556.0 2557.2,548.5 2641.1,547.2"/>
<polyline points="2389.4,583.6 2473.3,547.1 2557.2,537.7 2641.1,552.7"/>
<polyline points="2389.4,329.4 2473.3,254.8 2557.2,251.5 2641.1,298.2"/>
<polyline points="2389.4,609.6 2473.3,619.4 2557.2,621.7 2641.1,540.6"/>
<polyline points="2389.4,349.1 2473.3,359.8 2557.2,335.4 2641.1,342.0"/>
<polyline points="2389.4,546.5 2473.3,531.0 2557.2,559.6 2641.1,507.8"/>
<polyline points="2389.4,465.2 2473.3,420.1 2557.2,449.3 2641.1,426.0"/>
<polyline points="2389.4,249.2 2473.3,240.0 2557.2,243.7 2641.1,219.1"/>
<polyline points="2389.4,293.6 2473.3,244.0 2557.2,310.4 2641.1,276.4"/>
<polyline points="2389.4,333.7 2473.3,370.6 2557.2,352.6 2641.1,330.9"/>
<polyline points="2389.4,493.1 2473.3,467.3 2557.2,469.8 2641.1,492.2"/>
<polyline points="2389.4,614.5 2473.3,525.9 2557.2,562.4 2641.1,529.6"/>
<polyline points="2389.4,574.8 2473.3,502.9 2557.2,539.9 2641.1,529.8"/>
<polyline points="2389.4,303.0 2473.3,265.2 2557.2,277.2 2641.1,289.8"/>
<polyline points="2389.4,366.6 2473.3,343.1 2557.2,362.0 2641.1,321.4"/>
<polyline points="2389.4,531.8 2473.3,485.4 2557.2,530.8 2641.1,485.9"/>
<polyline points="2389.4,507.8 2473.3,496.6 2557.2,511.3 2641.1,483.6"/>
<polyline points="2389.4,593.2 2473.3,497.3 2557.2,557.6 2641.1,535.2"/>
<polyline points="2389.4,435.5 2473.3,385.3 2557.2,378.3 2641.1,356.3"/>
<polyline points="2389.4,389.4 2473.3,354.2 2557.2,388.3 2641.1,374.9"/>
<polyline points="2389.4,603.6 2473.3,536.3 2557.2,534.9 2641.1,501.4"/>
<polyline points="2389.4,516.5 2473.3,436.4 2557.2,491.3 2641.1,441.1"/>
<polyline points="2389.4,335.6 2473.3,336.8 2557.2,294.0 2641.1,313.3"/>
<polyline points="2389.4,453.4 2473.3,431.7 2557.2,456.1 2641.1,422.7"/>
<polyline points="2389.4,527.3 2473.3,492.9 2557.2,517.9 2641.1,482.6"/>
<polyline points="2389.4,361.8 2473.3,336.2 2557.2,353.7 2641.1,328.2"/>
<polyline points="2389.4,316.6 2473.3,320.1 2557.2,338.3 2641.1,323.3"/>
<polyline points="2389.4,307.8 2473.3,303.0 2557.2,331.9 2641.1,311.5"/>
<polyline points="2389.4,236.9 2473.3,228.0 2557.2,193.4 2641.1,204.5"/>
<polyline points="2755.7,299.4 2839.6,265.0 2923.5,250.5 3007.4,249.8"/>
<polyline points="2755.7,510.2 2839.6,441.0 2923.5,405.5 3007.4,380.8"/>
<polyline points="2755.7,324.2 2839.6,328.0 2923.5,305.2 3007.4,292.6"/>
<polyline points="2755.7,363.5 2839.6,299.1 2923.5,300.3 3007.4,268.6"/>
<polyline points="2755.7,161.4 2839.6,165.8 2923.5,157.6 3007.4,141.9"/>
<polyline points="2755.7,299.3 2839.6,276.0 2923.5,236.2 3007.4,186.7"/>
<polyline points="2755.7,381.5 2839.6,310.1 2923.5,316.9 3007.4,295.1"/>
<polyline points="2755.7,329.1 2839.6,298.3 2923.5,283.0 3007.4,276.8"/>
<polyline points="2755.7,257.9 2839.6,248.9 2923.5,219.8 3007.4,206.1"/>
<polyline points="2755.7,428.4 2839.6,385.7 2923.5,368.0 3007.4,317.8"/>
<polyline points="2755.7,450.1 2839.6,391.9 2923.5,342.7 3007.4,317.1"/>
<polyline points="2755.7,464.1 2839.6,406.1 2923.5,422.7 3007.4,386.0"/>
<polyline points="2755.7,380.7 2839.6,399.1 2923.5,350.4 3007.4,311.1"/>
<polyline points="2755.7,590.8 2839.6,558.4 2923.5,579.6 3007.4,539.4"/>
<polyline points="2755.7,433.6 2839.6,378.5 2923.5,362.0 3007.4,311.0"/>
<polyline points="2755.7,319.5 2839.6,286.9 2923.5,279.8 3007.4,247.5"/>
<polyline points="2755.7,441.8 2839.6,390.8 2923.5,373.3 3007.4,348.7"/>
<polyline points="2755.7,254.9 2839.6,239.6 2923.5,228.4 3007.4,234.3"/>
<polyline points="2755.7,487.9 2839.6,442.9 2923.5,376.9 3007.4,351.1"/>
<polyline points="2755.7,275.1 2839.6,232.1 2923.5,237.2 3007.4,193.2"/>
<polyline points="2755.7,319.2 2839.6,300.0 2923.5,290.4 3007.4,252.0"/>
<polyline points="2755.7,448.0 2839.6,400.8 2923.5,368.9 3007.4,333.6"/>
<polyline points="2755.7,466.5 2839.6,425.0 2923.5,398.3 3007.4,337.9"/>
<polyline points="2755.7,391.5 2839.6,381.5 2923.5,335.3 3007.4,329.6"/>
<polyline points="2755.7,310.1 2839.6,276.5 2923.5,248.3 3007.4,206.4"/>
<polyline points="2755.7,458.2 2839.6,435.8 2923.5,378.0 3007.4,335.6"/>
<polyline points="2755.7,242.5 2839.6,223.6 2923.5,239.7 3007.4,200.9"/>
<polyline points="2755.7,316.1 2839.6,290.2 2923.5,307.9 3007.4,243.8"/>
<polyline points="2755.7,475.9 2839.6,438.3 2923.5,428.7 3007.4,388.5"/>
<polyline points="2755.7,438.6 2839.6,432.0 2923.5,404.8 3007.4,354.7"/>
<polyline points="2755.7,441.9 2839.6,443.5 2923.5,397.9 3007.4,374.0"/>
<polyline points="2755.7,199.4 2839.6,190.4 2923.5,181.5 3007.4,165.8"/>
<polyline points="2755.7,424.6 2839.6,382.0 2923.5,360.2 3007.4,301.1"/>
<polyline points="2755.7,396.8 2839.6,381.9 2923.5,350.4 3007.4,322.4"/>
<polyline points="2755.7,184.4 2839.6,172.5 2923.5,218.0 3007.4,172.5"/>
<polyline points="2755.7,434.9 2839.6,412.9 2923.5,388.1 3007.4,344.1"/>
<polyline points="2755.7,380.2 2839.6,348.9 2923.5,364.2 3007.4,280.6"/>
<polyline points="2755.7,502.1 2839.6,462.1 2923.5,424.0 3007.4,389.4"/>
<polyline points="2755.7,378.6 2839.6,349.8 2923.5,283.4 3007.4,306.1"/>
<polyline points="2755.7,443.6 2839.6,402.2 2923.5,381.3 3007.4,363.2"/>
<polyline points="2755.7,423.8 2839.6,389.4 2923.5,356.4 3007.4,293.9"/>
<polyline points="2755.7,569.5 2839.6,548.3 2923.5,504.7 3007.4,518.1"/>
<polyline points="2755.7,377.0 2839.6,372.4 2923.5,347.7 3007.4,277.9"/>
<polyline points="2755.7,275.1 2839.6,232.8 2923.5,269.8 3007.4,241.5"/>
<polyline points="2755.7,512.9 2839.6,428.6 2923.5,446.8 3007.4,396.0"/>
<polyline points="2755.7,406.6 2839.6,381.5 2923.5,344.4 3007.4,329.9"/>
<polyline points="2755.7,471.4 2839.6,440.5 2923.5,436.4 3007.4,347.3"/>
<polyline points="2755.7,500.3 2839.6,438.7 2923.5,437.5 3007.4,405.5"/>
<polyline points="2755.7,508.2 2839.6,487.9 2923.5,432.4 3007.4,394.5"/>
<polyline points="2755.7,325.9 2839.6,244.2 2923.5,280.2 3007.4,246.2"/>
<polyline points="2755.7,371.9 2839.6,344.4 2923.5,316.8 3007.4,285.3"/>
<polyline points="2755.7,373.1 2839.6,356.3 2923.5,327.1 3007.4,280.4"/>
<polyline points="2755.7,444.0 2839.6,383.7 2923.5,377.7 3007.4,327.2"/>
<polyline points="2755.7,289.3 2839.6,287.9 2923.5,255.7 3007.4,260.0"/>
<polyline points="2755.7,333.9 2839.6,289.3 2923.5,262.6 3007.4,257.3"/>
<polyline points="2755.7,517.3 2839.6,481.2 2923.5,481.9 3007.4,446.5"/>
<polyline points="2755.7,386.5 2839.6,348.3 2923.5,366.7 3007.4,309.3"/>
<polyline points="2755.7,288.2 2839.6,274.0 2923.5,244.0 3007.4,224.8"/>
<polyline points="2755.7,390.1 2839.6,304.5 2923.5,309.9 3007.4,251.1"/>
<polyline points="2755.7,282.2 2839.6,241.8 2923.5,262.1 3007.4,233.0"/>
<polyline points="2755.7,281.8 2839.6,225.9 2923.5,220.4 3007.4,193.7"/>
<polyline points="2755.7,482.4 2839.6,434.0 2923.5,431.8 3007.4,368.5"/>
<polyline points="2755.7,549.4 2839.6,531.5 2923.5,557.3 3007.4,514.8"/>
<polyline points="2755.7,507.9 2839.6,443.5 2923.5,440.1 3007.4,405.5"/>
<polyline points="2755.7,493.2 2839.6,510.3 2923.5,466.6 3007.4,489.1"/>
<polyline points="2755.7,516.9 2839.6,439.4 2923.5,441.4 3007.4,424.1"/>
<polyline points="2755.7,469.5 2839.6,416.9 2923.5,423.4 3007.4,369.4"/>
<polyline points="2755.7,290.6 2839.6,282.9 2923.5,250.7 3007.4,234.8"/>
<polyline points="2755.7,387.3 2839.6,373.5 2923.5,351.7 3007.4,338.3"/>
<polyline points="2755.7,326.8 2839.6,281.1 2923.5,288.1 3007.4,271.1"/>
</g>
<path d="M191.7 442.6h0M191.7 394.1h0M191.7 129.1h0M191.7 407.4h0M191.7 226.3h0M191.7 461.1h0M191.7 468.6h0M191.7 481.1h0M191.7 287.2h0M191.7 556.3h0M191.7 382.7h0M191.7 216.8h0M191.7 453.7h0M191.7 468.6h0M191.7 411.9h0M191.7 141.4h0M191.7 545.1h0M191.7 285.5h0M191.7 236.6h0M191.7 487.3h0M191.7 252.3h0M191.7 304.4h0M191.7 312.8h0M191.7 319.5h0M191.7 436.8h0M191.7 298.7h0M191.7 342.3h0M191.7 361.1h0M191.7 354.0h0M191.7 385.8h0M191.7 270.0h0M191.7 520.5h0M191.7 467.6h0M191.7 292.6h0M191.7 244.6h0M191.7 470.5h0M191.7 394.3h0M191.7 596.0h0M191.7 303.3h0M191.7 404.1h0M191.7 402.5h0M191.7 427.1h0M191.7 513.8h0M191.7 359.3h0M191.7 364.2h0M191.7 237.5h0M191.7 217.8h0M191.7 374.6h0M191.7 460.3h0M191.7 470.4h0M191.7 368.6h0M191.7 453.0h0M191.7 295.8h0M191.7 208.9h0M191.7 299.4h0M191.7 311.6h0M191.7 207.7h0M191.7 200.6h0M191.7 200.9h0M191.7 352.8h0M191.7 476.9h0M191.7 191.3h0M191.7 378.2h0M191.7 422.0h0M191.7 251.1h0M191.7 221.2h0M191.7 198.5h0M191.7 418.1h0M191.7 276.4h0M191.7 399.0h0M558.0 280.8h0M558.0 388.6h0M558.0 209.8h0M558.0 385.4h0M558.0 430.1h0M558.0 281.1h0M558.0 524.5h0M558.0 404.1h0M558.0 317.6h0M558.0 348.5h0M558.0 403.5h0M558.0 271.3h0M558.0 580.4h0M558.0 210.0h0M558.0 339.9h0M558.0 358.6h0M558.0 258.4h0M558.0 386.2h0M558.0 440.9h0M558.0 395.0h0M558.0 289.2h0M558.0 220.6h0M558.0 412.5h0M558.0 409.4h0M558.0 200.9h0M558.0 314.8h0M558.0 367.4h0M558.0 299.3h0M558.0 210.8h0M558.0 210.6h0M558.0 244.0h0M558.0 235.4h0M558.0 172.7h0M558.0 332.7h0M558.0 272.6h0M558.0 109.4h0M558.0 419.2h0M558.0 297.3h0M558.0 378.1h0M558.0 382.1h0M558.0 244.7h0M558.0 193.6h0M558.0 402.1h0M558.0 351.8h0M558.0 278.0h0M558.0 310.2h0M558.0 357.0h0M558.0 261.9h0M558.0 253.1h0M558.0 227.6h0M558.0 483.6h0M558.0 601.0h0M558.0 349.2h0M558.0 454.9h0M558.0 244.5h0M558.0 442.8h0M558.0 205.0h0M558.0 288.4h0M558.0 326.3h0M558.0 373.7h0M558.0 307.8h0M558.0 447.0h0M558.0 134.7h0M558.0 490.3h0M558.0 317.0h0M558.0 435.6h0M558.0 291.7h0M558.0 357.2h0M558.0 335.1h0M558.0 435.1h0M924.3 351.6h0M924.3 205.3h0M924.3 327.6h0M924.3 431.3h0M924.3 392.4h0M924.3 527.7h0M924.3 411.6h0M924.3 257.0h0M924.3 372.7h0M924.3 378.9h0M924.3 360.5h0M924.3 457.3h0M924.3 406.8h0M924.3 303.2h0M924.3 290.7h0M924.3 412.6h0M924.3 328.3h0M924.3 283.3h0M924.3 390.2h0M924.3 366.9h0M924.3 274.7h0M924.3 367.5h0M924.3 274.5h0M924.3 479.1h0M924.3 443.9h0M924.3 364.6h0M924.3 470.0h0M924.3 375.7h0M924.3 346.4h0M924.3 346.2h0M924.3 409.8h0M924.3 420.2h0M924.3 277.1h0M924.3 284.2h0M924.3 303.4h0M924.3 362.1h0M924.3 474.0h0M924.3 380.8h0M924.3 354.0h0M924.3 435.2h0M924.3 311.8h0M924.3 323.0h0M924.3 283.0h0M924.3 424.9h0M924.3 365.6h0M924.3 443.4h0M924.3 514.7h0M924.3 398.4h0M924.3 454.0h0M924.3 479.1h0M924.3 460.0h0M924.3 265.1h0M924.3 198.1h0M924.3 458.1h0M924.3 350.1h0M924.3 335.1h0M924.3 308.8h0M924.3 292.7h0M924.3 228.3h0M924.3 380.7h0M924.3 323.0h0M924.3 399.9h0M924.3 407.2h0M924.3 293.6h0M924.3 406.1h0M924.3 304.4h0M924.3 318.4h0M924.3 440.7h0M924.3 415.0h0M924.3 390.7h0M1656.8 482.0h0M1656.8 467.5h0M1656.8 441.7h0M1656.8 465.8h0M1656.8 640.9h0M1656.8 555.0h0M1656.8 460.8h0M1656.8 502.3h0M1656.8 390.6h0M1656.8 572.8h0M1656.8 483.3h0M1656.8 496.4h0M1656.8 664.7h0M1656.8 434.3h0M1656.8 431.2h0M1656.8 500.0h0M1656.8 598.3h0M1656.8 455.2h0M1656.8 610.5h0M1656.8 564.1h0M1656.8 514.7h0M1656.8 465.9h0M1656.8 521.2h0M1656.8 439.1h0M1656.8 578.0h0M1656.8 505.4h0M1656.8 545.4h0M1656.8 492.9h0M1656.8 641.6h0M1656.8 557.5h0M1656.8 454.5h0M1656.8 503.1h0M1656.8 597.2h0M1656.8 503.3h0M1656.8 588.2h0M1656.8 508.4h0M1656.8 474.8h0M1656.8 421.6h0M1656.8 425.5h0M1656.8 444.2h0M1656.8 440.9h0M1656.8 446.7h0M1656.8 574.5h0M1656.8 561.5h0M1656.8 536.1h0M1656.8 547.1h0M1656.8 492.1h0M1656.8 520.4h0M1656.8 535.8h0M1656.8 473.9h0M1656.8 362.7h0M1656.8 508.6h0M1656.8 750.1h0M1656.8 622.4h0M1656.8 599.0h0M1656.8 579.6h0M1656.8 595.9h0M1656.8 605.1h0M1656.8 430.5h0M1656.8 502.2h0M1656.8 526.8h0M1656.8 631.7h0M1656.8 474.5h0M1656.8 588.5h0M1656.8 571.2h0M1656.8 528.6h0M1656.8 613.5h0M1656.8 536.3h0M1656.8 516.9h0M1656.8 607.8h0M2023.1 698.8h0M2023.1 674.9h0M2023.1 676.8h0M2023.1 692.1h0M2023.1 676.2h0M2023.1 664.7h0M2023.1 621.7h0M2023.1 692.1h0M2023.1 646.3h0M2023.1 618.2h0M2023.1 622.6h0M2023.1 624.5h0M2023.1 630.8h0M2023.1 641.6h0M2023.1 626.8h0M2023.1 664.1h0M2023.1 617.8h0M2023.1 664.2h0M2023.1 641.5h0M2023.1 634.2h0M2023.1 685.3h0M2023.1 671.7h0M2023.1 695.2h0M2023.1 698.3h0M2023.1 668.8h0M2023.1 691.8h0M2023.1 634.3h0M2023.1 632.5h0M2023.1 700.0h0M2023.1 653.0h0M2023.1 625.8h0M2023.1 694.0h0M2023.1 634.3h0M2023.1 732.9h0M2023.1 675.4h0M2023.1 679.0h0M2023.1 648.1h0M2023.1 694.0h0M2023.1 693.0h0M2023.1 668.6h0M2023.1 614.7h0M2023.1 681.7h0M2023.1 740.7h0M2023.1 682.9h0M2023.1 636.3h0M2023.1 649.9h0M2023.1 632.1h0M2023.1 684.7h0M2023.1 653.6h0M2023.1 630.7h0M2023.1 619.4h0M2023.1 651.6h0M2023.1 689.6h0M2023.1 654.3h0M2023.1 659.7h0M2023.1 616.9h0M2023.1 622.5h0M2023.1 617.3h0M2023.1 631.7h0M2023.1 669.7h0M2023.1 654.2h0M2023.1 665.3h0M2023.1 633.3h0M2023.1 673.4h0M2023.1 646.6h0M2023.1 646.8h0M2023.1 668.7h0M2023.1 625.1h0M2023.1 619.7h0M2023.1 662.2h0M2023.1 683.7h0M2023.1 697.9h0M2023.1 616.9h0M2023.1 690.1h0M2023.1 651.3h0M2023.1 671.6h0M2023.1 681.1h0M2023.1 655.4h0M2023.1 667.5h0M2023.1 613.6h0M2023.1 690.4h0M2023.1 615.1h0M2023.1 615.4h0M2023.1 681.5h0M2023.1 614.4h0M2023.1 674.7h0M2023.1 665.3h0M2023.1 635.3h0M2023.1 677.6h0M2023.1 686.3h0M2023.1 631.3h0M2023.1 634.6h0M2023.1 647.5h0M2023.1 697.6h0M2023.1 668.3h0M2023.1 675.2h0M2023.1 619.0h0M2023.1 657.5h0M2023.1 658.0h0M2023.1 623.4h0M2389.4 451.4h0M2389.4 615.1h0M2389.4 600.0h0M2389.4 550.3h0M2389.4 567.8h0M2389.4 551.3h0M2389.4 496.1h0M2389.4 340.1h0M2389.4 559.1h0M2389.4 302.7h0M2389.4 725.1h0M2389.4 329.4h0M2389.4 368.8h0M2389.4 410.3h0M2389.4 559.2h0M2389.4 445.7h0M2389.4 656.8h0M2389.4 433.5h0M2389.4 609.4h0M2389.4 529.3h0M2389.4 383.4h0M2389.4 326.6h0M2389.4 482.6h0M2389.4 541.6h0M2389.4 495.6h0M2389.4 224.7h0M2389.4 260.4h0M2389.4 360.0h0M2389.4 373.7h0M2389.4 367.6h0M2389.4 308.1h0M2389.4 342.9h0M2389.4 440.1h0M2389.4 498.4h0M2389.4 604.9h0M2389.4 456.6h0M2389.4 497.9h0M2389.4 465.4h0M2389.4 524.3h0M2389.4 534.3h0M2389.4 618.6h0M2389.4 607.1h0M2389.4 583.6h0M2389.4 329.4h0M2389.4 609.6h0M2389.4 349.1h0M2389.4 546.5h0M2389.4 465.2h0M2389.4 249.2h0M2389.4 293.6h0M2389.4 333.7h0M2389.4 493.1h0M2389.4 614.5h0M2389.4 574.8h0M2389.4 303.0h0M2389.4 366.6h0M2389.4 531.8h0M2389.4 507.8h0M2389.4 593.2h0M2389.4 435.5h0M2389.4 389.4h0M2389.4 603.6h0M2389.4 516.5h0M2389.4 335.6h0M2389.4 453.4h0M2389.4 527.3h0M2389.4 361.8h0M2389.4 316.6h0M2389.4 307.8h0M2389.4 236.9h0M2755.7 299.4h0M2755.7 510.2h0M2755.7 324.2h0M2755.7 363.5h0M2755.7 161.4h0M2755.7 299.3h0M2755.7 381.5h0M2755.7 329.1h0M2755.7 257.9h0M2755.7 428.4h0M2755.7 450.1h0M2755.7 464.1h0M2755.7 380.7h0M2755.7 590.8h0M2755.7 433.6h0M2755.7 319.5h0M2755.7 441.8h0M2755.7 254.9h0M2755.7 487.9h0M2755.7 275.1h0M2755.7 319.2h0M2755.7 448.0h0M2755.7 466.5h0M2755.7 391.5h0M2755.7 310.1h0M2755.7 458.2h0M2755.7 242.5h0M2755.7 316.1h0M2755.7 475.9h0M2755.7 438.6h0M2755.7 441.9h0M2755.7 199.4h0M2755.7 424.6h0M2755.7 396.8h0M2755.7 184.4h0M2755.7 434.9h0M2755.7 380.2h0M2755.7 502.1h0M2755.7 378.6h0M2755.7 443.6h0M2755.7 423.8h0M2755.7 569.5h0M2755.7 377.0h0M2755.7 275.1h0M2755.7 512.9h0M2755.7 406.6h0M2755.7 471.4h0M2755.7 500.3h0M2755.7 508.2h0M2755.7 325.9h0M2755.7 371.9h0M2755.7 373.1h0M2755.7 444.0h0M2755.7 289.3h0M2755.7 333.9h0M2755.7 517.3h0M2755.7 386.5h0M2755.7 288.2h0M2755.7 390.1h0M2755.7 282.2h0M2755.7 281.8h0M2755.7 482.4h0M2755.7 549.4h0M2755.7 507.9h0M2755.7 493.2h0M2755.7 516.9h0M2755.7 469.5h0M2755.7 290.6h0M2755.7 387.3h0M2755.7 326.8h0" stroke="#6E6E6E" stroke-width="15.2" stroke-linecap="round" fill="none"/>
<path d="M275.6 390.7h0M275.6 383.4h0M275.6 121.2h0M275.6 376.3h0M275.6 229.4h0M275.6 384.8h0M275.6 379.8h0M275.6 452.3h0M275.6 253.6h0M275.6 542.4h0M275.6 331.9h0M275.6 196.1h0M275.6 412.3h0M275.6 407.3h0M275.6 413.4h0M275.6 138.0h0M275.6 502.2h0M275.6 235.8h0M275.6 212.3h0M275.6 490.3h0M275.6 269.3h0M275.6 245.7h0M275.6 278.4h0M275.6 311.7h0M275.6 390.7h0M275.6 254.2h0M275.6 319.5h0M275.6 321.9h0M275.6 303.2h0M275.6 339.8h0M275.6 241.4h0M275.6 472.4h0M275.6 398.5h0M275.6 214.4h0M275.6 221.2h0M275.6 427.9h0M275.6 393.7h0M275.6 576.8h0M275.6 277.0h0M275.6 360.1h0M275.6 343.9h0M275.6 393.8h0M275.6 419.7h0M275.6 372.6h0M275.6 346.3h0M275.6 222.6h0M275.6 195.2h0M275.6 357.3h0M275.6 406.4h0M275.6 421.6h0M275.6 364.0h0M275.6 406.3h0M275.6 215.1h0M275.6 177.0h0M275.6 260.8h0M275.6 280.0h0M275.6 186.7h0M275.6 153.7h0M275.6 245.1h0M275.6 320.6h0M275.6 418.0h0M275.6 176.8h0M275.6 355.0h0M275.6 389.4h0M275.6 212.5h0M275.6 204.1h0M275.6 211.1h0M275.6 402.7h0M275.6 262.9h0M275.6 352.1h0M641.9 222.8h0M641.9 326.5h0M641.9 182.2h0M641.9 329.3h0M641.9 372.1h0M641.9 291.5h0M641.9 486.9h0M641.9 397.4h0M641.9 316.3h0M641.9 279.0h0M641.9 363.3h0M641.9 215.5h0M641.9 508.2h0M641.9 207.0h0M641.9 284.4h0M641.9 275.4h0M641.9 266.6h0M641.9 345.5h0M641.9 387.6h0M641.9 378.2h0M641.9 229.7h0M641.9 174.4h0M641.9 405.6h0M641.9 334.2h0M641.9 180.3h0M641.9 262.1h0M641.9 316.4h0M641.9 257.4h0M641.9 204.5h0M641.9 170.1h0M641.9 204.8h0M641.9 197.7h0M641.9 188.0h0M641.9 308.9h0M641.9 203.7h0M641.9 116.1h0M641.9 398.2h0M641.9 258.0h0M641.9 359.0h0M641.9 336.6h0M641.9 211.9h0M641.9 141.4h0M641.9 387.8h0M641.9 343.4h0M641.9 212.5h0M641.9 249.8h0M641.9 355.1h0M641.9 222.5h0M641.9 202.0h0M641.9 207.0h0M641.9 422.5h0M641.9 501.5h0M641.9 332.0h0M641.9 391.9h0M641.9 208.4h0M641.9 378.0h0M641.9 176.9h0M641.9 216.3h0M641.9 298.9h0M641.9 320.0h0M641.9 240.3h0M641.9 397.8h0M641.9 153.7h0M641.9 494.8h0M641.9 244.2h0M641.9 379.0h0M641.9 263.9h0M641.9 333.8h0M641.9 303.2h0M641.9 404.6h0M1008.2 317.5h0M1008.2 198.6h0M1008.2 260.9h0M1008.2 430.4h0M1008.2 427.0h0M1008.2 508.0h0M1008.2 409.4h0M1008.2 241.4h0M1008.2 326.0h0M1008.2 300.6h0M1008.2 297.3h0M1008.2 418.9h0M1008.2 420.3h0M1008.2 225.9h0M1008.2 223.1h0M1008.2 395.7h0M1008.2 303.1h0M1008.2 224.0h0M1008.2 376.0h0M1008.2 311.4h0M1008.2 252.0h0M1008.2 275.5h0M1008.2 231.8h0M1008.2 474.3h0M1008.2 424.5h0M1008.2 314.7h0M1008.2 427.7h0M1008.2 330.7h0M1008.2 267.3h0M1008.2 301.7h0M1008.2 328.1h0M1008.2 404.9h0M1008.2 226.2h0M1008.2 227.7h0M1008.2 284.3h0M1008.2 301.6h0M1008.2 436.6h0M1008.2 333.9h0M1008.2 326.5h0M1008.2 432.4h0M1008.2 289.1h0M1008.2 261.5h0M1008.2 247.1h0M1008.2 411.2h0M1008.2 339.4h0M1008.2 427.6h0M1008.2 562.8h0M1008.2 413.8h0M1008.2 424.8h0M1008.2 435.7h0M1008.2 454.2h0M1008.2 215.7h0M1008.2 185.8h0M1008.2 466.5h0M1008.2 304.4h0M1008.2 295.5h0M1008.2 279.9h0M1008.2 269.0h0M1008.2 225.1h0M1008.2 355.8h0M1008.2 263.8h0M1008.2 321.7h0M1008.2 407.3h0M1008.2 268.5h0M1008.2 409.3h0M1008.2 304.4h0M1008.2 307.7h0M1008.2 412.0h0M1008.2 407.0h0M1008.2 406.9h0M1374.4 701.1h0M1374.4 704.8h0M1374.4 663.5h0M1374.4 631.6h0M1374.4 675.4h0M1374.4 648.2h0M1374.4 723.0h0M1374.4 693.3h0M1374.4 700.7h0M1374.4 641.3h0M1374.4 690.5h0M1374.4 644.1h0M1374.4 642.4h0M1374.4 706.5h0M1374.4 650.4h0M1374.4 677.0h0M1374.4 695.6h0M1374.4 674.8h0M1374.4 686.0h0M1374.4 633.8h0M1374.4 648.7h0M1374.4 664.0h0M1374.4 674.8h0M1374.4 685.3h0M1374.4 668.5h0M1374.4 703.3h0M1374.4 648.3h0M1374.4 638.7h0M1374.4 671.5h0M1374.4 653.3h0M1374.4 629.8h0M1374.4 643.7h0M1374.4 641.3h0M1374.4 673.7h0M1374.4 647.8h0M1374.4 694.9h0M1374.4 682.5h0M1374.4 636.8h0M1374.4 650.1h0M1374.4 680.6h0M1374.4 657.5h0M1374.4 670.6h0M1374.4 677.8h0M1374.4 659.7h0M1374.4 650.1h0M1374.4 642.7h0M1374.4 653.1h0M1374.4 656.9h0M1374.4 694.7h0M1374.4 638.0h0M1374.4 660.0h0M1374.4 735.3h0M1374.4 698.6h0M1374.4 656.1h0M1374.4 646.5h0M1374.4 647.4h0M1374.4 636.8h0M1374.4 673.1h0M1374.4 606.1h0M1374.4 632.3h0M1374.4 637.3h0M1374.4 661.1h0M1374.4 692.2h0M1374.4 628.8h0M1374.4 654.6h0M1374.4 698.8h0M1374.4 648.4h0M1374.4 697.2h0M1374.4 678.4h0M1374.4 682.0h0M1374.4 708.8h0M1374.4 694.1h0M1374.4 651.5h0M1374.4 700.1h0M1374.4 705.6h0M1374.4 671.3h0M1374.4 691.8h0M1374.4 659.7h0M1374.4 634.0h0M1374.4 636.8h0M1374.4 619.1h0M1374.4 689.6h0M1374.4 657.1h0M1374.4 708.6h0M1374.4 633.2h0M1374.4 675.4h0M1374.4 654.0h0M1374.4 664.8h0M1374.4 636.2h0M1374.4 638.5h0M1374.4 705.6h0M1374.4 656.7h0M1374.4 686.3h0M1374.4 653.5h0M1374.4 661.7h0M1374.4 728.6h0M1374.4 667.6h0M1374.4 642.4h0M1374.4 652.1h0M1374.4 668.6h0M1740.7 505.0h0M1740.7 451.4h0M1740.7 376.9h0M1740.7 489.8h0M1740.7 653.5h0M1740.7 522.0h0M1740.7 468.3h0M1740.7 538.7h0M1740.7 364.9h0M1740.7 514.2h0M1740.7 495.2h0M1740.7 478.9h0M1740.7 639.0h0M1740.7 392.0h0M1740.7 378.1h0M1740.7 476.0h0M1740.7 574.2h0M1740.7 460.1h0M1740.7 601.2h0M1740.7 569.8h0M1740.7 521.2h0M1740.7 479.0h0M1740.7 494.8h0M1740.7 451.6h0M1740.7 569.3h0M1740.7 529.1h0M1740.7 557.0h0M1740.7 462.2h0M1740.7 637.7h0M1740.7 564.3h0M1740.7 477.9h0M1740.7 499.2h0M1740.7 589.4h0M1740.7 496.2h0M1740.7 615.4h0M1740.7 510.4h0M1740.7 471.3h0M1740.7 369.9h0M1740.7 350.8h0M1740.7 386.2h0M1740.7 411.8h0M1740.7 468.2h0M1740.7 550.6h0M1740.7 563.1h0M1740.7 519.1h0M1740.7 544.5h0M1740.7 490.3h0M1740.7 502.9h0M1740.7 532.3h0M1740.7 443.9h0M1740.7 363.5h0M1740.7 532.6h0M1740.7 734.7h0M1740.7 649.1h0M1740.7 583.8h0M1740.7 598.1h0M1740.7 549.9h0M1740.7 592.6h0M1740.7 392.0h0M1740.7 487.1h0M1740.7 489.7h0M1740.7 679.9h0M1740.7 475.6h0M1740.7 583.8h0M1740.7 592.0h0M1740.7 501.4h0M1740.7 557.7h0M1740.7 507.8h0M1740.7 505.5h0M1740.7 590.5h0M2107.0 718.7h0M2107.0 676.2h0M2107.0 699.2h0M2107.0 705.5h0M2107.0 692.3h0M2107.0 660.2h0M2107.0 623.5h0M2107.0 683.0h0M2107.0 674.5h0M2107.0 613.8h0M2107.0 630.6h0M2107.0 588.2h0M2107.0 652.6h0M2107.0 627.7h0M2107.0 637.5h0M2107.0 663.9h0M2107.0 638.4h0M2107.0 664.0h0M2107.0 635.8h0M2107.0 617.7h0M2107.0 694.4h0M2107.0 690.4h0M2107.0 686.6h0M2107.0 690.5h0M2107.0 682.7h0M2107.0 639.4h0M2107.0 619.4h0M2107.0 640.1h0M2107.0 709.4h0M2107.0 653.4h0M2107.0 544.1h0M2107.0 689.9h0M2107.0 621.3h0M2107.0 707.5h0M2107.0 642.0h0M2107.0 710.9h0M2107.0 622.6h0M2107.0 678.5h0M2107.0 710.4h0M2107.0 653.2h0M2107.0 620.4h0M2107.0 679.1h0M2107.0 702.9h0M2107.0 707.4h0M2107.0 580.8h0M2107.0 630.7h0M2107.0 655.8h0M2107.0 674.4h0M2107.0 648.0h0M2107.0 603.5h0M2107.0 615.4h0M2107.0 646.0h0M2107.0 664.0h0M2107.0 666.7h0M2107.0 672.1h0M2107.0 628.1h0M2107.0 645.1h0M2107.0 618.8h0M2107.0 635.3h0M2107.0 682.6h0M2107.0 645.4h0M2107.0 659.4h0M2107.0 672.1h0M2107.0 678.8h0M2107.0 658.1h0M2107.0 632.5h0M2107.0 683.9h0M2107.0 619.6h0M2107.0 656.6h0M2107.0 641.6h0M2107.0 708.3h0M2107.0 689.1h0M2107.0 615.0h0M2107.0 700.2h0M2107.0 642.5h0M2107.0 664.6h0M2107.0 677.4h0M2107.0 665.2h0M2107.0 667.9h0M2107.0 612.0h0M2107.0 681.0h0M2107.0 616.9h0M2107.0 619.9h0M2107.0 702.3h0M2107.0 656.2h0M2107.0 667.6h0M2107.0 658.7h0M2107.0 613.8h0M2107.0 681.7h0M2107.0 704.6h0M2107.0 647.6h0M2107.0 668.7h0M2107.0 610.5h0M2107.0 704.0h0M2107.0 695.6h0M2107.0 668.6h0M2107.0 668.5h0M2107.0 635.5h0M2107.0 669.1h0M2107.0 636.4h0M2473.3 447.4h0M2473.3 591.5h0M2473.3 573.6h0M2473.3 501.8h0M2473.3 519.0h0M2473.3 519.8h0M2473.3 460.4h0M2473.3 308.8h0M2473.3 515.3h0M2473.3 295.9h0M2473.3 734.0h0M2473.3 297.4h0M2473.3 312.6h0M2473.3 360.5h0M2473.3 536.7h0M2473.3 431.4h0M2473.3 671.3h0M2473.3 352.3h0M2473.3 600.4h0M2473.3 473.2h0M2473.3 355.7h0M2473.3 299.6h0M2473.3 412.7h0M2473.3 434.8h0M2473.3 425.4h0M2473.3 253.4h0M2473.3 250.0h0M2473.3 330.6h0M2473.3 343.9h0M2473.3 352.8h0M2473.3 305.1h0M2473.3 313.4h0M2473.3 379.7h0M2473.3 440.3h0M2473.3 554.6h0M2473.3 395.0h0M2473.3 455.3h0M2473.3 412.2h0M2473.3 509.6h0M2473.3 474.5h0M2473.3 628.4h0M2473.3 556.0h0M2473.3 547.1h0M2473.3 254.8h0M2473.3 619.4h0M2473.3 359.8h0M2473.3 531.0h0M2473.3 420.1h0M2473.3 240.0h0M2473.3 244.0h0M2473.3 370.6h0M2473.3 467.3h0M2473.3 525.9h0M2473.3 502.9h0M2473.3 265.2h0M2473.3 343.1h0M2473.3 485.4h0M2473.3 496.6h0M2473.3 497.3h0M2473.3 385.3h0M2473.3 354.2h0M2473.3 536.3h0M2473.3 436.4h0M2473.3 336.8h0M2473.3 431.7h0M2473.3 492.9h0M2473.3 336.2h0M2473.3 320.1h0M2473.3 303.0h0M2473.3 228.0h0M2839.6 265.0h0M2839.6 441.0h0M2839.6 328.0h0M2839.6 299.1h0M2839.6 165.8h0M2839.6 276.0h0M2839.6 310.1h0M2839.6 298.3h0M2839.6 248.9h0M2839.6 385.7h0M2839.6 391.9h0M2839.6 406.1h0M2839.6 399.1h0M2839.6 558.4h0M2839.6 378.5h0M2839.6 286.9h0M2839.6 390.8h0M2839.6 239.6h0M2839.6 442.9h0M2839.6 232.1h0M2839.6 300.0h0M2839.6 400.8h0M2839.6 425.0h0M2839.6 381.5h0M2839.6 276.5h0M2839.6 435.8h0M2839.6 223.6h0M2839.6 290.2h0M2839.6 438.3h0M2839.6 432.0h0M2839.6 443.5h0M2839.6 190.4h0M2839.6 382.0h0M2839.6 381.9h0M2839.6 172.5h0M2839.6 412.9h0M2839.6 348.9h0M2839.6 462.1h0M2839.6 349.8h0M2839.6 402.2h0M2839.6 389.4h0M2839.6 548.3h0M2839.6 372.4h0M2839.6 232.8h0M2839.6 428.6h0M2839.6 381.5h0M2839.6 440.5h0M2839.6 438.7h0M2839.6 487.9h0M2839.6 244.2h0M2839.6 344.4h0M2839.6 356.3h0M2839.6 383.7h0M2839.6 287.9h0M2839.6 289.3h0M2839.6 481.2h0M2839.6 348.3h0M2839.6 274.0h0M2839.6 304.5h0M2839.6 241.8h0M2839.6 225.9h0M2839.6 434.0h0M2839.6 531.5h0M2839.6 443.5h0M2839.6 510.3h0M2839.6 439.4h0M2839.6 416.9h0M2839.6 282.9h0M2839.6 373.5h0M2839.6 281.1h0" stroke="#AA291F" stroke-width="15.2" stroke-linecap="round" fill="none"/>
<path d="M359.5 383.9h0M359.5 297.0h0M359.5 127.9h0M359.5 314.7h0M359.5 198.9h0M359.5 394.4h0M359.5 355.7h0M359.5 447.8h0M359.5 302.4h0M359.5 566.3h0M359.5 321.7h0M359.5 212.4h0M359.5 427.6h0M359.5 416.4h0M359.5 327.0h0M359.5 142.5h0M359.5 482.5h0M359.5 249.6h0M359.5 207.2h0M359.5 459.0h0M359.5 214.9h0M359.5 260.6h0M359.5 242.3h0M359.5 279.6h0M359.5 352.1h0M359.5 262.2h0M359.5 273.2h0M359.5 279.2h0M359.5 284.8h0M359.5 330.7h0M359.5 213.1h0M359.5 465.7h0M359.5 379.7h0M359.5 217.9h0M359.5 171.1h0M359.5 365.2h0M359.5 351.5h0M359.5 556.3h0M359.5 239.9h0M359.5 361.8h0M359.5 354.6h0M359.5 359.3h0M359.5 389.8h0M359.5 323.9h0M359.5 312.1h0M359.5 223.1h0M359.5 208.3h0M359.5 303.4h0M359.5 393.1h0M359.5 366.2h0M359.5 347.9h0M359.5 384.9h0M359.5 234.7h0M359.5 184.4h0M359.5 273.5h0M359.5 269.6h0M359.5 191.7h0M359.5 163.4h0M359.5 179.5h0M359.5 275.8h0M359.5 371.5h0M359.5 170.6h0M359.5 306.8h0M359.5 352.9h0M359.5 227.1h0M359.5 204.5h0M359.5 212.4h0M359.5 362.3h0M359.5 214.4h0M359.5 320.3h0M725.8 202.6h0M725.8 313.7h0M725.8 181.6h0M725.8 325.9h0M725.8 332.0h0M725.8 238.3h0M725.8 472.4h0M725.8 357.4h0M725.8 237.0h0M725.8 257.3h0M725.8 336.5h0M725.8 226.2h0M725.8 493.7h0M725.8 181.4h0M725.8 262.3h0M725.8 272.0h0M725.8 192.1h0M725.8 312.4h0M725.8 342.8h0M725.8 332.4h0M725.8 232.7h0M725.8 171.1h0M725.8 336.5h0M725.8 298.4h0M725.8 198.6h0M725.8 276.6h0M725.8 243.6h0M725.8 227.7h0M725.8 172.4h0M725.8 146.6h0M725.8 207.4h0M725.8 200.5h0M725.8 160.1h0M725.8 256.4h0M725.8 209.6h0M725.8 123.5h0M725.8 308.4h0M725.8 215.3h0M725.8 306.7h0M725.8 305.0h0M725.8 210.5h0M725.8 156.1h0M725.8 322.7h0M725.8 296.0h0M725.8 211.0h0M725.8 252.7h0M725.8 278.0h0M725.8 210.6h0M725.8 207.7h0M725.8 163.3h0M725.8 349.1h0M725.8 500.4h0M725.8 285.9h0M725.8 358.6h0M725.8 178.1h0M725.8 340.0h0M725.8 194.5h0M725.8 184.3h0M725.8 269.3h0M725.8 313.9h0M725.8 215.0h0M725.8 331.6h0M725.8 111.2h0M725.8 388.5h0M725.8 247.9h0M725.8 375.1h0M725.8 247.3h0M725.8 288.1h0M725.8 243.6h0M725.8 339.4h0M1092.1 306.3h0M1092.1 164.6h0M1092.1 276.5h0M1092.1 385.4h0M1092.1 337.3h0M1092.1 521.0h0M1092.1 342.9h0M1092.1 191.4h0M1092.1 334.1h0M1092.1 330.7h0M1092.1 291.8h0M1092.1 425.5h0M1092.1 393.1h0M1092.1 285.3h0M1092.1 242.5h0M1092.1 353.5h0M1092.1 295.8h0M1092.1 270.7h0M1092.1 375.3h0M1092.1 303.8h0M1092.1 247.8h0M1092.1 304.1h0M1092.1 253.7h0M1092.1 408.4h0M1092.1 381.9h0M1092.1 301.2h0M1092.1 428.9h0M1092.1 324.2h0M1092.1 288.5h0M1092.1 304.3h0M1092.1 303.7h0M1092.1 369.1h0M1092.1 262.7h0M1092.1 253.4h0M1092.1 250.8h0M1092.1 301.6h0M1092.1 402.3h0M1092.1 335.1h0M1092.1 296.4h0M1092.1 393.9h0M1092.1 265.0h0M1092.1 276.3h0M1092.1 250.2h0M1092.1 410.2h0M1092.1 314.3h0M1092.1 415.0h0M1092.1 556.7h0M1092.1 350.9h0M1092.1 431.0h0M1092.1 414.9h0M1092.1 458.7h0M1092.1 199.2h0M1092.1 181.4h0M1092.1 478.8h0M1092.1 300.6h0M1092.1 289.0h0M1092.1 291.1h0M1092.1 298.8h0M1092.1 212.0h0M1092.1 338.5h0M1092.1 268.9h0M1092.1 327.8h0M1092.1 361.1h0M1092.1 253.2h0M1092.1 385.3h0M1092.1 333.7h0M1092.1 308.0h0M1092.1 422.1h0M1092.1 368.5h0M1092.1 324.9h0M1458.3 696.6h0M1458.3 720.8h0M1458.3 662.1h0M1458.3 651.2h0M1458.3 669.8h0M1458.3 629.8h0M1458.3 730.8h0M1458.3 707.7h0M1458.3 670.1h0M1458.3 651.5h0M1458.3 674.2h0M1458.3 642.2h0M1458.3 642.2h0M1458.3 687.3h0M1458.3 645.2h0M1458.3 653.6h0M1458.3 704.6h0M1458.3 666.4h0M1458.3 670.3h0M1458.3 653.0h0M1458.3 677.8h0M1458.3 656.5h0M1458.3 693.2h0M1458.3 661.6h0M1458.3 651.8h0M1458.3 697.1h0M1458.3 644.5h0M1458.3 648.1h0M1458.3 686.5h0M1458.3 691.1h0M1458.3 649.9h0M1458.3 674.8h0M1458.3 649.5h0M1458.3 658.5h0M1458.3 655.0h0M1458.3 688.0h0M1458.3 670.7h0M1458.3 620.2h0M1458.3 657.4h0M1458.3 692.3h0M1458.3 699.1h0M1458.3 703.8h0M1458.3 726.4h0M1458.3 692.7h0M1458.3 654.6h0M1458.3 656.1h0M1458.3 658.9h0M1458.3 652.3h0M1458.3 674.2h0M1458.3 678.5h0M1458.3 702.5h0M1458.3 696.5h0M1458.3 702.7h0M1458.3 692.1h0M1458.3 655.7h0M1458.3 676.9h0M1458.3 643.0h0M1458.3 681.4h0M1458.3 600.1h0M1458.3 661.7h0M1458.3 651.6h0M1458.3 676.0h0M1458.3 689.8h0M1458.3 663.6h0M1458.3 696.2h0M1458.3 683.2h0M1458.3 668.6h0M1458.3 697.1h0M1458.3 683.2h0M1458.3 682.9h0M1458.3 707.4h0M1458.3 697.7h0M1458.3 666.1h0M1458.3 697.2h0M1458.3 706.4h0M1458.3 686.0h0M1458.3 703.1h0M1458.3 684.9h0M1458.3 661.2h0M1458.3 642.8h0M1458.3 645.1h0M1458.3 657.8h0M1458.3 657.9h0M1458.3 749.2h0M1458.3 658.2h0M1458.3 682.1h0M1458.3 664.5h0M1458.3 665.8h0M1458.3 665.7h0M1458.3 658.0h0M1458.3 683.2h0M1458.3 668.5h0M1458.3 687.9h0M1458.3 666.4h0M1458.3 646.1h0M1458.3 704.4h0M1458.3 663.3h0M1458.3 647.3h0M1458.3 683.3h0M1458.3 669.9h0M1824.6 479.3h0M1824.6 418.1h0M1824.6 400.7h0M1824.6 428.9h0M1824.6 661.4h0M1824.6 558.0h0M1824.6 429.7h0M1824.6 534.9h0M1824.6 321.3h0M1824.6 550.7h0M1824.6 456.7h0M1824.6 483.7h0M1824.6 641.2h0M1824.6 409.2h0M1824.6 407.5h0M1824.6 467.3h0M1824.6 572.0h0M1824.6 444.3h0M1824.6 596.8h0M1824.6 582.6h0M1824.6 541.8h0M1824.6 462.5h0M1824.6 506.1h0M1824.6 413.1h0M1824.6 552.1h0M1824.6 499.1h0M1824.6 565.4h0M1824.6 485.2h0M1824.6 625.4h0M1824.6 593.9h0M1824.6 447.4h0M1824.6 499.6h0M1824.6 596.5h0M1824.6 485.4h0M1824.6 588.4h0M1824.6 523.8h0M1824.6 512.1h0M1824.6 374.5h0M1824.6 393.6h0M1824.6 421.3h0M1824.6 435.6h0M1824.6 412.2h0M1824.6 519.6h0M1824.6 561.8h0M1824.6 521.7h0M1824.6 556.1h0M1824.6 472.2h0M1824.6 505.8h0M1824.6 518.5h0M1824.6 457.5h0M1824.6 311.2h0M1824.6 514.9h0M1824.6 739.6h0M1824.6 593.7h0M1824.6 604.5h0M1824.6 592.2h0M1824.6 559.7h0M1824.6 579.6h0M1824.6 436.3h0M1824.6 490.0h0M1824.6 474.2h0M1824.6 651.3h0M1824.6 453.3h0M1824.6 581.2h0M1824.6 565.4h0M1824.6 517.0h0M1824.6 559.1h0M1824.6 569.4h0M1824.6 494.8h0M1824.6 557.9h0M2190.9 695.0h0M2190.9 691.8h0M2190.9 679.4h0M2190.9 691.5h0M2190.9 681.7h0M2190.9 682.9h0M2190.9 641.9h0M2190.9 679.7h0M2190.9 682.5h0M2190.9 616.9h0M2190.9 643.1h0M2190.9 624.5h0M2190.9 651.2h0M2190.9 655.0h0M2190.9 628.4h0M2190.9 684.0h0M2190.9 652.6h0M2190.9 650.7h0M2190.9 676.4h0M2190.9 619.6h0M2190.9 660.5h0M2190.9 667.2h0M2190.9 689.2h0M2190.9 676.4h0M2190.9 685.2h0M2190.9 649.6h0M2190.9 632.8h0M2190.9 649.8h0M2190.9 740.7h0M2190.9 659.3h0M2190.9 530.1h0M2190.9 692.0h0M2190.9 630.1h0M2190.9 700.0h0M2190.9 642.4h0M2190.9 694.0h0M2190.9 675.5h0M2190.9 668.9h0M2190.9 680.4h0M2190.9 683.4h0M2190.9 649.0h0M2190.9 633.2h0M2190.9 730.0h0M2190.9 672.6h0M2190.9 591.5h0M2190.9 633.3h0M2190.9 616.9h0M2190.9 658.1h0M2190.9 669.0h0M2190.9 624.3h0M2190.9 618.8h0M2190.9 631.6h0M2190.9 681.1h0M2190.9 663.2h0M2190.9 684.6h0M2190.9 616.9h0M2190.9 632.4h0M2190.9 638.8h0M2190.9 675.4h0M2190.9 652.0h0M2190.9 662.6h0M2190.9 640.0h0M2190.9 692.2h0M2190.9 676.6h0M2190.9 656.5h0M2190.9 627.7h0M2190.9 665.0h0M2190.9 647.8h0M2190.9 654.5h0M2190.9 626.1h0M2190.9 686.4h0M2190.9 689.6h0M2190.9 620.1h0M2190.9 689.8h0M2190.9 668.3h0M2190.9 680.2h0M2190.9 677.4h0M2190.9 655.4h0M2190.9 670.2h0M2190.9 628.6h0M2190.9 677.8h0M2190.9 619.3h0M2190.9 636.4h0M2190.9 682.6h0M2190.9 636.1h0M2190.9 624.3h0M2190.9 662.3h0M2190.9 674.3h0M2190.9 683.7h0M2190.9 679.3h0M2190.9 660.3h0M2190.9 628.1h0M2190.9 599.4h0M2190.9 696.9h0M2190.9 675.1h0M2190.9 676.1h0M2190.9 628.2h0M2190.9 623.4h0M2190.9 665.8h0M2190.9 640.3h0M2557.2 433.4h0M2557.2 597.4h0M2557.2 580.0h0M2557.2 481.3h0M2557.2 530.0h0M2557.2 498.6h0M2557.2 471.5h0M2557.2 352.8h0M2557.2 501.0h0M2557.2 326.5h0M2557.2 734.0h0M2557.2 314.8h0M2557.2 350.7h0M2557.2 405.8h0M2557.2 573.3h0M2557.2 431.2h0M2557.2 703.3h0M2557.2 365.2h0M2557.2 587.4h0M2557.2 497.1h0M2557.2 387.9h0M2557.2 319.4h0M2557.2 466.7h0M2557.2 473.6h0M2557.2 458.5h0M2557.2 224.7h0M2557.2 236.9h0M2557.2 355.5h0M2557.2 358.5h0M2557.2 345.0h0M2557.2 327.0h0M2557.2 371.7h0M2557.2 440.6h0M2557.2 469.3h0M2557.2 555.0h0M2557.2 447.3h0M2557.2 447.1h0M2557.2 457.8h0M2557.2 489.3h0M2557.2 503.3h0M2557.2 629.5h0M2557.2 548.5h0M2557.2 537.7h0M2557.2 251.5h0M2557.2 621.7h0M2557.2 335.4h0M2557.2 559.6h0M2557.2 449.3h0M2557.2 243.7h0M2557.2 310.4h0M2557.2 352.6h0M2557.2 469.8h0M2557.2 562.4h0M2557.2 539.9h0M2557.2 277.2h0M2557.2 362.0h0M2557.2 530.8h0M2557.2 511.3h0M2557.2 557.6h0M2557.2 378.3h0M2557.2 388.3h0M2557.2 534.9h0M2557.2 491.3h0M2557.2 294.0h0M2557.2 456.1h0M2557.2 517.9h0M2557.2 353.7h0M2557.2 338.3h0M2557.2 331.9h0M2557.2 193.4h0M2923.5 250.5h0M2923.5 405.5h0M2923.5 305.2h0M2923.5 300.3h0M2923.5 157.6h0M2923.5 236.2h0M2923.5 316.9h0M2923.5 283.0h0M2923.5 219.8h0M2923.5 368.0h0M2923.5 342.7h0M2923.5 422.7h0M2923.5 350.4h0M2923.5 579.6h0M2923.5 362.0h0M2923.5 279.8h0M2923.5 373.3h0M2923.5 228.4h0M2923.5 376.9h0M2923.5 237.2h0M2923.5 290.4h0M2923.5 368.9h0M2923.5 398.3h0M2923.5 335.3h0M2923.5 248.3h0M2923.5 378.0h0M2923.5 239.7h0M2923.5 307.9h0M2923.5 428.7h0M2923.5 404.8h0M2923.5 397.9h0M2923.5 181.5h0M2923.5 360.2h0M2923.5 350.4h0M2923.5 218.0h0M2923.5 388.1h0M2923.5 364.2h0M2923.5 424.0h0M2923.5 283.4h0M2923.5 381.3h0M2923.5 356.4h0M2923.5 504.7h0M2923.5 347.7h0M2923.5 269.8h0M2923.5 446.8h0M2923.5 344.4h0M2923.5 436.4h0M2923.5 437.5h0M2923.5 432.4h0M2923.5 280.2h0M2923.5 316.8h0M2923.5 327.1h0M2923.5 377.7h0M2923.5 255.7h0M2923.5 262.6h0M2923.5 481.9h0M2923.5 366.7h0M2923.5 244.0h0M2923.5 309.9h0M2923.5 262.1h0M2923.5 220.4h0M2923.5 431.8h0M2923.5 557.3h0M2923.5 440.1h0M2923.5 466.6h0M2923.5 441.4h0M2923.5 423.4h0M2923.5 250.7h0M2923.5 351.7h0M2923.5 288.1h0" stroke="#0D5DA6" stroke-width="15.2" stroke-linecap="round" fill="none"/>
<path d="M443.4 367.8h0M443.4 294.9h0M443.4 132.4h0M443.4 337.2h0M443.4 196.1h0M443.4 436.7h0M443.4 374.9h0M443.4 435.3h0M443.4 236.6h0M443.4 516.0h0M443.4 273.2h0M443.4 186.4h0M443.4 420.6h0M443.4 385.5h0M443.4 341.3h0M443.4 140.2h0M443.4 426.4h0M443.4 259.0h0M443.4 172.5h0M443.4 443.8h0M443.4 225.8h0M443.4 220.6h0M443.4 265.5h0M443.4 250.5h0M443.4 354.4h0M443.4 213.3h0M443.4 263.7h0M443.4 284.7h0M443.4 274.4h0M443.4 285.6h0M443.4 202.8h0M443.4 450.0h0M443.4 378.6h0M443.4 180.8h0M443.4 183.2h0M443.4 378.3h0M443.4 374.7h0M443.4 527.2h0M443.4 218.9h0M443.4 299.9h0M443.4 330.0h0M443.4 361.4h0M443.4 433.9h0M443.4 345.9h0M443.4 300.5h0M443.4 205.9h0M443.4 204.6h0M443.4 264.9h0M443.4 450.0h0M443.4 347.0h0M443.4 309.4h0M443.4 384.1h0M443.4 215.9h0M443.4 161.2h0M443.4 232.7h0M443.4 238.4h0M443.4 170.7h0M443.4 116.8h0M443.4 204.6h0M443.4 260.7h0M443.4 361.4h0M443.4 146.9h0M443.4 299.1h0M443.4 354.9h0M443.4 212.9h0M443.4 194.0h0M443.4 179.4h0M443.4 378.6h0M443.4 235.8h0M443.4 294.0h0M809.7 187.8h0M809.7 274.2h0M809.7 157.4h0M809.7 283.3h0M809.7 305.2h0M809.7 225.3h0M809.7 464.1h0M809.7 293.9h0M809.7 257.5h0M809.7 259.3h0M809.7 281.0h0M809.7 205.0h0M809.7 448.5h0M809.7 193.2h0M809.7 246.4h0M809.7 220.2h0M809.7 197.4h0M809.7 289.7h0M809.7 366.1h0M809.7 325.8h0M809.7 204.3h0M809.7 153.8h0M809.7 319.0h0M809.7 287.5h0M809.7 186.5h0M809.7 201.1h0M809.7 234.7h0M809.7 179.9h0M809.7 146.2h0M809.7 153.8h0M809.7 172.6h0M809.7 196.6h0M809.7 145.8h0M809.7 206.2h0M809.7 180.6h0M809.7 114.5h0M809.7 301.6h0M809.7 195.0h0M809.7 279.2h0M809.7 274.9h0M809.7 161.0h0M809.7 141.6h0M809.7 302.8h0M809.7 275.4h0M809.7 188.6h0M809.7 214.1h0M809.7 251.2h0M809.7 205.9h0M809.7 190.0h0M809.7 136.6h0M809.7 377.3h0M809.7 509.8h0M809.7 241.9h0M809.7 357.2h0M809.7 173.4h0M809.7 336.3h0M809.7 107.8h0M809.7 200.2h0M809.7 267.3h0M809.7 281.0h0M809.7 230.1h0M809.7 334.5h0M809.7 122.4h0M809.7 434.3h0M809.7 240.7h0M809.7 310.1h0M809.7 215.4h0M809.7 251.3h0M809.7 240.9h0M809.7 308.2h0M1176.0 298.1h0M1176.0 175.8h0M1176.0 251.5h0M1176.0 412.3h0M1176.0 377.0h0M1176.0 459.3h0M1176.0 367.9h0M1176.0 220.2h0M1176.0 328.8h0M1176.0 322.8h0M1176.0 288.9h0M1176.0 445.6h0M1176.0 407.8h0M1176.0 261.4h0M1176.0 225.5h0M1176.0 390.8h0M1176.0 302.9h0M1176.0 247.7h0M1176.0 384.6h0M1176.0 303.9h0M1176.0 289.6h0M1176.0 319.8h0M1176.0 228.8h0M1176.0 427.9h0M1176.0 402.3h0M1176.0 309.2h0M1176.0 422.8h0M1176.0 331.1h0M1176.0 295.6h0M1176.0 339.4h0M1176.0 328.8h0M1176.0 385.8h0M1176.0 236.5h0M1176.0 253.0h0M1176.0 249.9h0M1176.0 292.0h0M1176.0 437.0h0M1176.0 314.7h0M1176.0 299.4h0M1176.0 402.7h0M1176.0 260.1h0M1176.0 235.1h0M1176.0 201.5h0M1176.0 420.0h0M1176.0 321.1h0M1176.0 395.5h0M1176.0 499.7h0M1176.0 398.2h0M1176.0 439.6h0M1176.0 427.0h0M1176.0 421.4h0M1176.0 226.5h0M1176.0 185.8h0M1176.0 429.9h0M1176.0 269.6h0M1176.0 303.6h0M1176.0 278.7h0M1176.0 250.2h0M1176.0 222.4h0M1176.0 357.7h0M1176.0 253.4h0M1176.0 334.4h0M1176.0 375.4h0M1176.0 260.5h0M1176.0 381.8h0M1176.0 295.7h0M1176.0 294.8h0M1176.0 438.2h0M1176.0 409.4h0M1176.0 337.7h0M1542.2 670.0h0M1542.2 685.3h0M1542.2 693.4h0M1542.2 627.9h0M1542.2 664.4h0M1542.2 626.4h0M1542.2 732.6h0M1542.2 699.1h0M1542.2 680.7h0M1542.2 652.8h0M1542.2 676.6h0M1542.2 672.6h0M1542.2 635.6h0M1542.2 683.7h0M1542.2 642.9h0M1542.2 661.6h0M1542.2 684.1h0M1542.2 646.4h0M1542.2 701.8h0M1542.2 621.0h0M1542.2 651.1h0M1542.2 681.5h0M1542.2 673.8h0M1542.2 648.7h0M1542.2 656.2h0M1542.2 697.1h0M1542.2 668.2h0M1542.2 639.3h0M1542.2 666.3h0M1542.2 654.8h0M1542.2 603.4h0M1542.2 665.5h0M1542.2 654.9h0M1542.2 657.2h0M1542.2 649.7h0M1542.2 669.3h0M1542.2 684.2h0M1542.2 624.5h0M1542.2 664.4h0M1542.2 701.0h0M1542.2 692.0h0M1542.2 682.2h0M1542.2 695.7h0M1542.2 664.2h0M1542.2 642.7h0M1542.2 637.4h0M1542.2 660.0h0M1542.2 654.5h0M1542.2 692.6h0M1542.2 646.1h0M1542.2 697.0h0M1542.2 718.5h0M1542.2 696.2h0M1542.2 694.4h0M1542.2 658.3h0M1542.2 646.1h0M1542.2 657.1h0M1542.2 647.3h0M1542.2 626.4h0M1542.2 655.7h0M1542.2 654.9h0M1542.2 641.0h0M1542.2 699.3h0M1542.2 635.2h0M1542.2 660.4h0M1542.2 686.1h0M1542.2 660.6h0M1542.2 682.6h0M1542.2 694.1h0M1542.2 675.1h0M1542.2 696.0h0M1542.2 690.1h0M1542.2 654.0h0M1542.2 695.8h0M1542.2 691.9h0M1542.2 679.6h0M1542.2 679.4h0M1542.2 649.7h0M1542.2 627.3h0M1542.2 619.9h0M1542.2 636.0h0M1542.2 672.1h0M1542.2 622.1h0M1542.2 694.0h0M1542.2 653.0h0M1542.2 694.5h0M1542.2 687.5h0M1542.2 655.7h0M1542.2 638.6h0M1542.2 644.7h0M1542.2 690.9h0M1542.2 669.3h0M1542.2 687.3h0M1542.2 667.9h0M1542.2 634.2h0M1542.2 702.1h0M1542.2 663.4h0M1542.2 644.9h0M1542.2 676.7h0M1542.2 667.2h0M1908.5 510.0h0M1908.5 424.5h0M1908.5 359.6h0M1908.5 448.7h0M1908.5 609.3h0M1908.5 564.3h0M1908.5 451.0h0M1908.5 518.7h0M1908.5 346.9h0M1908.5 543.1h0M1908.5 418.8h0M1908.5 470.0h0M1908.5 628.0h0M1908.5 352.5h0M1908.5 387.3h0M1908.5 415.0h0M1908.5 594.0h0M1908.5 411.4h0M1908.5 589.8h0M1908.5 570.6h0M1908.5 560.6h0M1908.5 436.9h0M1908.5 522.8h0M1908.5 427.0h0M1908.5 535.4h0M1908.5 529.6h0M1908.5 585.2h0M1908.5 450.3h0M1908.5 601.9h0M1908.5 605.4h0M1908.5 434.8h0M1908.5 467.0h0M1908.5 576.8h0M1908.5 448.0h0M1908.5 582.2h0M1908.5 540.6h0M1908.5 468.6h0M1908.5 349.1h0M1908.5 338.9h0M1908.5 351.2h0M1908.5 380.5h0M1908.5 409.3h0M1908.5 563.1h0M1908.5 592.9h0M1908.5 547.1h0M1908.5 550.6h0M1908.5 445.9h0M1908.5 514.9h0M1908.5 491.3h0M1908.5 445.6h0M1908.5 326.9h0M1908.5 536.5h0M1908.5 717.3h0M1908.5 606.5h0M1908.5 589.7h0M1908.5 610.1h0M1908.5 576.0h0M1908.5 604.3h0M1908.5 434.6h0M1908.5 460.8h0M1908.5 454.8h0M1908.5 584.4h0M1908.5 444.3h0M1908.5 618.7h0M1908.5 594.7h0M1908.5 528.2h0M1908.5 597.6h0M1908.5 532.1h0M1908.5 519.0h0M1908.5 586.9h0M2274.8 710.0h0M2274.8 689.5h0M2274.8 676.8h0M2274.8 680.8h0M2274.8 677.0h0M2274.8 634.3h0M2274.8 610.9h0M2274.8 677.7h0M2274.8 683.5h0M2274.8 592.3h0M2274.8 593.6h0M2274.8 570.3h0M2274.8 644.7h0M2274.8 635.9h0M2274.8 637.7h0M2274.8 675.5h0M2274.8 623.2h0M2274.8 630.3h0M2274.8 644.8h0M2274.8 610.9h0M2274.8 679.5h0M2274.8 694.3h0M2274.8 663.9h0M2274.8 643.2h0M2274.8 648.4h0M2274.8 681.4h0M2274.8 614.0h0M2274.8 629.1h0M2274.8 702.5h0M2274.8 645.1h0M2274.8 617.8h0M2274.8 686.2h0M2274.8 611.8h0M2274.8 678.8h0M2274.8 655.6h0M2274.8 707.0h0M2274.8 632.2h0M2274.8 699.4h0M2274.8 690.7h0M2274.8 650.6h0M2274.8 618.7h0M2274.8 673.2h0M2274.8 676.5h0M2274.8 705.2h0M2274.8 560.2h0M2274.8 627.9h0M2274.8 616.9h0M2274.8 642.6h0M2274.8 636.7h0M2274.8 634.3h0M2274.8 638.8h0M2274.8 619.9h0M2274.8 680.4h0M2274.8 657.5h0M2274.8 671.8h0M2274.8 634.1h0M2274.8 599.1h0M2274.8 653.5h0M2274.8 665.3h0M2274.8 648.9h0M2274.8 663.8h0M2274.8 626.4h0M2274.8 679.6h0M2274.8 664.0h0M2274.8 637.4h0M2274.8 634.1h0M2274.8 640.3h0M2274.8 600.4h0M2274.8 604.4h0M2274.8 663.7h0M2274.8 710.9h0M2274.8 674.8h0M2274.8 598.6h0M2274.8 679.6h0M2274.8 645.8h0M2274.8 677.9h0M2274.8 683.5h0M2274.8 635.2h0M2274.8 659.1h0M2274.8 594.7h0M2274.8 701.6h0M2274.8 612.9h0M2274.8 625.0h0M2274.8 702.1h0M2274.8 609.7h0M2274.8 666.9h0M2274.8 675.5h0M2274.8 660.9h0M2274.8 658.9h0M2274.8 699.8h0M2274.8 632.6h0M2274.8 630.7h0M2274.8 621.4h0M2274.8 678.2h0M2274.8 679.6h0M2274.8 697.7h0M2274.8 610.6h0M2274.8 618.4h0M2274.8 663.7h0M2274.8 624.9h0M2641.1 446.6h0M2641.1 558.6h0M2641.1 535.9h0M2641.1 495.4h0M2641.1 542.7h0M2641.1 467.2h0M2641.1 442.0h0M2641.1 283.6h0M2641.1 493.1h0M2641.1 278.1h0M2641.1 722.8h0M2641.1 273.5h0M2641.1 349.0h0M2641.1 342.2h0M2641.1 509.0h0M2641.1 367.1h0M2641.1 641.8h0M2641.1 319.9h0M2641.1 566.1h0M2641.1 467.5h0M2641.1 359.1h0M2641.1 307.8h0M2641.1 433.9h0M2641.1 479.6h0M2641.1 476.6h0M2641.1 231.4h0M2641.1 260.4h0M2641.1 316.0h0M2641.1 343.0h0M2641.1 325.3h0M2641.1 306.7h0M2641.1 297.1h0M2641.1 396.9h0M2641.1 459.2h0M2641.1 535.5h0M2641.1 415.6h0M2641.1 450.4h0M2641.1 436.3h0M2641.1 466.6h0M2641.1 488.4h0M2641.1 598.9h0M2641.1 547.2h0M2641.1 552.7h0M2641.1 298.2h0M2641.1 540.6h0M2641.1 342.0h0M2641.1 507.8h0M2641.1 426.0h0M2641.1 219.1h0M2641.1 276.4h0M2641.1 330.9h0M2641.1 492.2h0M2641.1 529.6h0M2641.1 529.8h0M2641.1 289.8h0M2641.1 321.4h0M2641.1 485.9h0M2641.1 483.6h0M2641.1 535.2h0M2641.1 356.3h0M2641.1 374.9h0M2641.1 501.4h0M2641.1 441.1h0M2641.1 313.3h0M2641.1 422.7h0M2641.1 482.6h0M2641.1 328.2h0M2641.1 323.3h0M2641.1 311.5h0M2641.1 204.5h0M3007.4 249.8h0M3007.4 380.8h0M3007.4 292.6h0M3007.4 268.6h0M3007.4 141.9h0M3007.4 186.7h0M3007.4 295.1h0M3007.4 276.8h0M3007.4 206.1h0M3007.4 317.8h0M3007.4 317.1h0M3007.4 386.0h0M3007.4 311.1h0M3007.4 539.4h0M3007.4 311.0h0M3007.4 247.5h0M3007.4 348.7h0M3007.4 234.3h0M3007.4 351.1h0M3007.4 193.2h0M3007.4 252.0h0M3007.4 333.6h0M3007.4 337.9h0M3007.4 329.6h0M3007.4 206.4h0M3007.4 335.6h0M3007.4 200.9h0M3007.4 243.8h0M3007.4 388.5h0M3007.4 354.7h0M3007.4 374.0h0M3007.4 165.8h0M3007.4 301.1h0M3007.4 322.4h0M3007.4 172.5h0M3007.4 344.1h0M3007.4 280.6h0M3007.4 389.4h0M3007.4 306.1h0M3007.4 363.2h0M3007.4 293.9h0M3007.4 518.1h0M3007.4 277.9h0M3007.4 241.5h0M3007.4 396.0h0M3007.4 329.9h0M3007.4 347.3h0M3007.4 405.5h0M3007.4 394.5h0M3007.4 246.2h0M3007.4 285.3h0M3007.4 280.4h0M3007.4 327.2h0M3007.4 260.0h0M3007.4 257.3h0M3007.4 446.5h0M3007.4 309.3h0M3007.4 224.8h0M3007.4 251.1h0M3007.4 233.0h0M3007.4 193.7h0M3007.4 368.5h0M3007.4 514.8h0M3007.4 405.5h0M3007.4 489.1h0M3007.4 424.1h0M3007.4 369.4h0M3007.4 234.8h0M3007.4 338.3h0M3007.4 271.1h0" stroke="#D9761F" stroke-width="15.2" stroke-linecap="round" fill="none"/>
<g fill="none" stroke="#262626" stroke-width="4">
<rect x="144.0" y="77.75" width="347.1" height="702.25"/>
<rect x="510.28" y="77.75" width="347.1" height="702.25"/>
<rect x="876.56" y="77.75" width="347.1" height="702.25"/>
<rect x="1242.84" y="77.75" width="347.1" height="702.25"/>
<rect x="1609.12" y="77.75" width="347.1" height="702.25"/>
<rect x="1975.3999999999999" y="77.75" width="347.1" height="702.25"/>
<rect x="2341.68" y="77.75" width="347.1" height="702.25"/>
<rect x="2707.96" y="77.75" width="347.1" height="702.25"/>
</g>
<g font-weight="bold" font-size="40" fill="#1A1A1A" text-anchor="middle">
<text x="317.6" y="60">ABT199</text>
<text x="683.8" y="60">BAD</text>
<text x="1050.1" y="60">BIM</text>
<text x="1416.4" y="60">DMSO</text>
<text x="1782.7" y="60">FS1</text>
<text x="2148.9" y="60">HRKy</text>
<text x="2515.2" y="60">MS1</text>
<text x="2881.5" y="60">PUMA</text>
</g>
<g font-size="41" fill="#3C3C3C" text-anchor="end">
<rect x="134" y="673.75" width="8" height="8" fill="#262626"/>
<text x="127.4" y="692.35">0</text>
<rect x="134" y="528.50" width="8" height="8" fill="#262626"/>
<text x="127.4" y="547.10">25</text>
<rect x="134" y="383.25" width="8" height="8" fill="#262626"/>
<text x="127.4" y="401.85">50</text>
<rect x="134" y="238.00" width="8" height="8" fill="#262626"/>
<text x="127.4" y="256.60">75</text>
<rect x="134" y="92.75" width="8" height="8" fill="#262626"/>
<text x="127.4" y="111.35">100</text>
</g>
<text transform="translate(45.3,429.2) rotate(-90) scale(0.99,1.06)" font-size="43" fill="#000" text-anchor="middle">Cyt C release</text>
<text x="1012" y="925.7" font-size="53" fill="#000">drug</text>
<circle cx="1170.3" cy="903.7" r="16.2" fill="#6E6E6E"/>
<text x="1218.5" y="918.7" font-size="40.5" fill="#000">DMSO</text>
<circle cx="1389.6" cy="903.7" r="16.2" fill="#AA291F"/>
<text x="1438.5" y="918.7" font-size="40.5" fill="#000">Everolimus</text>
<circle cx="1685" cy="903.7" r="16.2" fill="#0D5DA6"/>
<text x="1733.5" y="918.7" font-size="40.5" fill="#000">Ibrutinib</text>
<circle cx="1927.2" cy="903.7" r="16.2" fill="#D9761F"/>
<text x="1975" y="918.7" font-size="40.5" fill="#000">Selumetinib</text>
</svg></body></html>
